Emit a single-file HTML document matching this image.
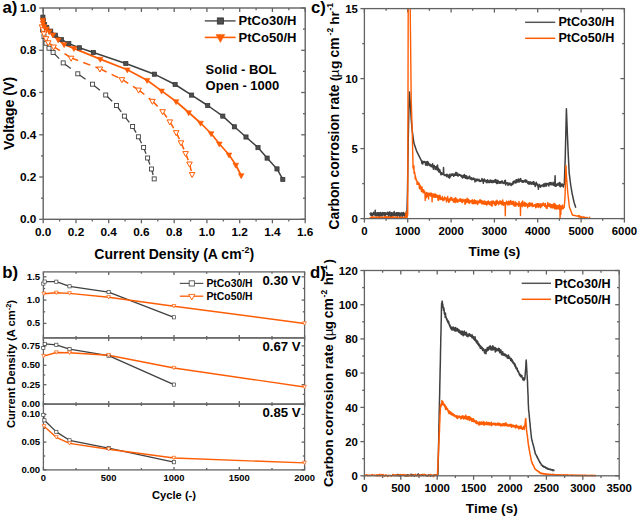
<!DOCTYPE html>
<html><head><meta charset="utf-8"><style>
html,body{margin:0;padding:0;background:#fff;}
svg{display:block;}
text{font-family:"Liberation Sans",sans-serif;font-weight:bold;fill:#000;}
</style></head><body>
<svg width="637" height="517" viewBox="0 0 637 517">
<rect width="637" height="517" fill="#fff"/>
<g>
<line x1="43.2" y1="219.3" x2="43.2" y2="223.3" stroke="#636363" stroke-width="1.3"/>
<line x1="43.2" y1="8" x2="43.2" y2="12" stroke="#636363" stroke-width="1.3"/>
<line x1="59.6" y1="219.3" x2="59.6" y2="221.5" stroke="#636363" stroke-width="1.3"/>
<line x1="59.6" y1="8" x2="59.6" y2="10.2" stroke="#636363" stroke-width="1.3"/>
<line x1="76" y1="219.3" x2="76" y2="223.3" stroke="#636363" stroke-width="1.3"/>
<line x1="76" y1="8" x2="76" y2="12" stroke="#636363" stroke-width="1.3"/>
<line x1="92.3" y1="219.3" x2="92.3" y2="221.5" stroke="#636363" stroke-width="1.3"/>
<line x1="92.3" y1="8" x2="92.3" y2="10.2" stroke="#636363" stroke-width="1.3"/>
<line x1="108.7" y1="219.3" x2="108.7" y2="223.3" stroke="#636363" stroke-width="1.3"/>
<line x1="108.7" y1="8" x2="108.7" y2="12" stroke="#636363" stroke-width="1.3"/>
<line x1="125.1" y1="219.3" x2="125.1" y2="221.5" stroke="#636363" stroke-width="1.3"/>
<line x1="125.1" y1="8" x2="125.1" y2="10.2" stroke="#636363" stroke-width="1.3"/>
<line x1="141.4" y1="219.3" x2="141.4" y2="223.3" stroke="#636363" stroke-width="1.3"/>
<line x1="141.4" y1="8" x2="141.4" y2="12" stroke="#636363" stroke-width="1.3"/>
<line x1="157.8" y1="219.3" x2="157.8" y2="221.5" stroke="#636363" stroke-width="1.3"/>
<line x1="157.8" y1="8" x2="157.8" y2="10.2" stroke="#636363" stroke-width="1.3"/>
<line x1="174.2" y1="219.3" x2="174.2" y2="223.3" stroke="#636363" stroke-width="1.3"/>
<line x1="174.2" y1="8" x2="174.2" y2="12" stroke="#636363" stroke-width="1.3"/>
<line x1="190.6" y1="219.3" x2="190.6" y2="221.5" stroke="#636363" stroke-width="1.3"/>
<line x1="190.6" y1="8" x2="190.6" y2="10.2" stroke="#636363" stroke-width="1.3"/>
<line x1="206.9" y1="219.3" x2="206.9" y2="223.3" stroke="#636363" stroke-width="1.3"/>
<line x1="206.9" y1="8" x2="206.9" y2="12" stroke="#636363" stroke-width="1.3"/>
<line x1="223.3" y1="219.3" x2="223.3" y2="221.5" stroke="#636363" stroke-width="1.3"/>
<line x1="223.3" y1="8" x2="223.3" y2="10.2" stroke="#636363" stroke-width="1.3"/>
<line x1="239.7" y1="219.3" x2="239.7" y2="223.3" stroke="#636363" stroke-width="1.3"/>
<line x1="239.7" y1="8" x2="239.7" y2="12" stroke="#636363" stroke-width="1.3"/>
<line x1="256.1" y1="219.3" x2="256.1" y2="221.5" stroke="#636363" stroke-width="1.3"/>
<line x1="256.1" y1="8" x2="256.1" y2="10.2" stroke="#636363" stroke-width="1.3"/>
<line x1="272.4" y1="219.3" x2="272.4" y2="223.3" stroke="#636363" stroke-width="1.3"/>
<line x1="272.4" y1="8" x2="272.4" y2="12" stroke="#636363" stroke-width="1.3"/>
<line x1="288.8" y1="219.3" x2="288.8" y2="221.5" stroke="#636363" stroke-width="1.3"/>
<line x1="288.8" y1="8" x2="288.8" y2="10.2" stroke="#636363" stroke-width="1.3"/>
<line x1="305.2" y1="219.3" x2="305.2" y2="223.3" stroke="#636363" stroke-width="1.3"/>
<line x1="305.2" y1="8" x2="305.2" y2="12" stroke="#636363" stroke-width="1.3"/>
<line x1="43.2" y1="219.3" x2="39.2" y2="219.3" stroke="#636363" stroke-width="1.3"/>
<line x1="305.2" y1="219.3" x2="301.2" y2="219.3" stroke="#636363" stroke-width="1.3"/>
<line x1="43.2" y1="198.2" x2="41" y2="198.2" stroke="#636363" stroke-width="1.3"/>
<line x1="305.2" y1="198.2" x2="303" y2="198.2" stroke="#636363" stroke-width="1.3"/>
<line x1="43.2" y1="177" x2="39.2" y2="177" stroke="#636363" stroke-width="1.3"/>
<line x1="305.2" y1="177" x2="301.2" y2="177" stroke="#636363" stroke-width="1.3"/>
<line x1="43.2" y1="155.9" x2="41" y2="155.9" stroke="#636363" stroke-width="1.3"/>
<line x1="305.2" y1="155.9" x2="303" y2="155.9" stroke="#636363" stroke-width="1.3"/>
<line x1="43.2" y1="134.8" x2="39.2" y2="134.8" stroke="#636363" stroke-width="1.3"/>
<line x1="305.2" y1="134.8" x2="301.2" y2="134.8" stroke="#636363" stroke-width="1.3"/>
<line x1="43.2" y1="113.7" x2="41" y2="113.7" stroke="#636363" stroke-width="1.3"/>
<line x1="305.2" y1="113.7" x2="303" y2="113.7" stroke="#636363" stroke-width="1.3"/>
<line x1="43.2" y1="92.5" x2="39.2" y2="92.5" stroke="#636363" stroke-width="1.3"/>
<line x1="305.2" y1="92.5" x2="301.2" y2="92.5" stroke="#636363" stroke-width="1.3"/>
<line x1="43.2" y1="71.4" x2="41" y2="71.4" stroke="#636363" stroke-width="1.3"/>
<line x1="305.2" y1="71.4" x2="303" y2="71.4" stroke="#636363" stroke-width="1.3"/>
<line x1="43.2" y1="50.3" x2="39.2" y2="50.3" stroke="#636363" stroke-width="1.3"/>
<line x1="305.2" y1="50.3" x2="301.2" y2="50.3" stroke="#636363" stroke-width="1.3"/>
<line x1="43.2" y1="29.1" x2="41" y2="29.1" stroke="#636363" stroke-width="1.3"/>
<line x1="305.2" y1="29.1" x2="303" y2="29.1" stroke="#636363" stroke-width="1.3"/>
<line x1="43.2" y1="8" x2="39.2" y2="8" stroke="#636363" stroke-width="1.3"/>
<line x1="305.2" y1="8" x2="301.2" y2="8" stroke="#636363" stroke-width="1.3"/>
<rect x="43.2" y="8.0" width="262" height="211.3" fill="none" stroke="#636363" stroke-width="1.4"/>
<text x="43.2" y="235.7" font-size="11.8" text-anchor="middle" >0.0</text>
<text x="76" y="235.7" font-size="11.8" text-anchor="middle" >0.2</text>
<text x="108.7" y="235.7" font-size="11.8" text-anchor="middle" >0.4</text>
<text x="141.4" y="235.7" font-size="11.8" text-anchor="middle" >0.6</text>
<text x="174.2" y="235.7" font-size="11.8" text-anchor="middle" >0.8</text>
<text x="206.9" y="235.7" font-size="11.8" text-anchor="middle" >1.0</text>
<text x="239.7" y="235.7" font-size="11.8" text-anchor="middle" >1.2</text>
<text x="272.4" y="235.7" font-size="11.8" text-anchor="middle" >1.4</text>
<text x="305.2" y="235.7" font-size="11.8" text-anchor="middle" >1.6</text>
<text x="36.3" y="223.3" font-size="11.8" text-anchor="end" >0.0</text>
<text x="36.3" y="181" font-size="11.8" text-anchor="end" >0.2</text>
<text x="36.3" y="138.8" font-size="11.8" text-anchor="end" >0.4</text>
<text x="36.3" y="96.5" font-size="11.8" text-anchor="end" >0.6</text>
<text x="36.3" y="54.3" font-size="11.8" text-anchor="end" >0.8</text>
<text x="36.3" y="12" font-size="11.8" text-anchor="end" >1.0</text>
<text x="174.2" y="258.7" font-size="14" text-anchor="middle" >Current Density (A cm<tspan dy="-5.5" font-size="8.8">-2</tspan><tspan dy="5.5">)</tspan></text>
<text transform="translate(13.6,113.4) rotate(-90)" font-size="14.2" text-anchor="middle">Voltage (V)</text>
<text x="2.5" y="13.4" font-size="16.8" text-anchor="start" >a)</text>
</g>
<line x1="42.6" y1="30" x2="44" y2="36.5" stroke="#404040" stroke-width="1.3" stroke-dasharray="4.0,60"/>
<line x1="44" y1="36.5" x2="46" y2="43.2" stroke="#404040" stroke-width="1.3" stroke-dasharray="4.2,60"/>
<line x1="46" y1="43.2" x2="49" y2="48.2" stroke="#404040" stroke-width="1.3" stroke-dasharray="3.5,60"/>
<line x1="49" y1="48.2" x2="53.1" y2="52.4" stroke="#404040" stroke-width="1.3" stroke-dasharray="3.5,60"/>
<line x1="53.1" y1="52.4" x2="63.2" y2="62.9" stroke="#404040" stroke-width="1.3" stroke-dasharray="8.7,60"/>
<line x1="63.2" y1="62.9" x2="77.8" y2="73.8" stroke="#404040" stroke-width="1.3" stroke-dasharray="9.5,60"/>
<line x1="77.8" y1="73.8" x2="92.5" y2="84.2" stroke="#404040" stroke-width="1.3" stroke-dasharray="9.5,60"/>
<line x1="92.5" y1="84.2" x2="105.7" y2="95" stroke="#404040" stroke-width="1.3" stroke-dasharray="9.5,60"/>
<line x1="105.7" y1="95" x2="116.5" y2="105.5" stroke="#404040" stroke-width="1.3" stroke-dasharray="9.0,60"/>
<line x1="116.5" y1="105.5" x2="124.4" y2="116.1" stroke="#404040" stroke-width="1.3" stroke-dasharray="7.9,60"/>
<line x1="124.4" y1="116.1" x2="132.6" y2="126.5" stroke="#404040" stroke-width="1.3" stroke-dasharray="7.9,60"/>
<line x1="132.6" y1="126.5" x2="138.4" y2="136.8" stroke="#404040" stroke-width="1.3" stroke-dasharray="7.1,60"/>
<line x1="138.4" y1="136.8" x2="143.6" y2="147.4" stroke="#404040" stroke-width="1.3" stroke-dasharray="7.1,60"/>
<line x1="143.6" y1="147.4" x2="147.6" y2="158" stroke="#404040" stroke-width="1.3" stroke-dasharray="6.8,60"/>
<line x1="147.6" y1="158" x2="151.5" y2="169" stroke="#404040" stroke-width="1.3" stroke-dasharray="7.0,60"/>
<line x1="151.5" y1="169" x2="154.2" y2="178.9" stroke="#404040" stroke-width="1.3" stroke-dasharray="6.2,60"/>
<line x1="42" y1="26.6" x2="43" y2="29.5" stroke="#ff5d04" stroke-width="1.5" stroke-dasharray="7.5,5.5"/>
<line x1="43" y1="29.5" x2="44" y2="33.6" stroke="#ff5d04" stroke-width="1.5" stroke-dasharray="7.5,5.5"/>
<line x1="44" y1="33.6" x2="46" y2="38.4" stroke="#ff5d04" stroke-width="1.5" stroke-dasharray="7.5,5.5"/>
<line x1="46" y1="38.4" x2="48.2" y2="42.5" stroke="#ff5d04" stroke-width="1.5" stroke-dasharray="7.5,5.5"/>
<line x1="48.2" y1="42.5" x2="53.6" y2="46.7" stroke="#ff5d04" stroke-width="1.5" stroke-dasharray="7.5,5.5"/>
<line x1="53.6" y1="46.7" x2="71.1" y2="57.9" stroke="#ff5d04" stroke-width="1.5" stroke-dasharray="7.5,5.5"/>
<line x1="71.1" y1="57.9" x2="99.9" y2="68.7" stroke="#ff5d04" stroke-width="1.5" stroke-dasharray="7.5,5.5"/>
<line x1="99.9" y1="68.7" x2="121.9" y2="79.4" stroke="#ff5d04" stroke-width="1.5" stroke-dasharray="7.5,5.5"/>
<line x1="121.9" y1="79.4" x2="138.6" y2="89.8" stroke="#ff5d04" stroke-width="1.5" stroke-dasharray="7.5,5.5"/>
<line x1="138.6" y1="89.8" x2="152.4" y2="101" stroke="#ff5d04" stroke-width="1.5" stroke-dasharray="7.5,5.5"/>
<line x1="152.4" y1="101" x2="162.6" y2="111.4" stroke="#ff5d04" stroke-width="1.5" stroke-dasharray="7.5,5.5"/>
<line x1="162.6" y1="111.4" x2="169.8" y2="121.6" stroke="#ff5d04" stroke-width="1.5" stroke-dasharray="7.5,5.5"/>
<line x1="169.8" y1="121.6" x2="176.2" y2="132.4" stroke="#ff5d04" stroke-width="1.5" stroke-dasharray="7.5,5.5"/>
<line x1="176.2" y1="132.4" x2="181" y2="142.5" stroke="#ff5d04" stroke-width="1.5" stroke-dasharray="7.5,5.5"/>
<line x1="181" y1="142.5" x2="185.6" y2="153.3" stroke="#ff5d04" stroke-width="1.5" stroke-dasharray="7.5,5.5"/>
<line x1="185.6" y1="153.3" x2="189.5" y2="163.7" stroke="#ff5d04" stroke-width="1.5" stroke-dasharray="7.5,5.5"/>
<line x1="189.5" y1="163.7" x2="192.1" y2="174.2" stroke="#ff5d04" stroke-width="1.5" stroke-dasharray="7.5,5.5"/>
<polyline points="42.9,17.2 43.3,20.5 44.6,24.5 46.7,27.5 50.7,31.1 55.5,35.2 61.4,39.5 68.8,43.6 79.4,47.8 93.4,52.5 125.8,63.5 154.4,74.2 175.1,84.5 191.6,95.1 207.7,105.5 222.8,116.1 234.4,126.8 246,137 258,147.6 267.1,158.1 277,168.9 282.8,179.4" fill="none" stroke="#404040" stroke-width="1.5" stroke-linejoin="round" />
<polyline points="42.8,20 43,23 44.2,26.3 46.5,28.8 49.2,31.5 52.8,34.8 58.2,39.7 64.1,44.5 73.9,48.4 100.2,59.1 127.3,69.7 147.1,80.2 161.6,90.9 176.1,101.5 188.7,112.5 200.6,123 211.1,133.5 219.3,143.8 229,154.8 235.8,165 241.2,175.5" fill="none" stroke="#ff5d04" stroke-width="1.7" stroke-linejoin="round" />
<rect x="40.6" y="28" width="4" height="4" fill="#fff" stroke="#404040" stroke-width="0.9"/>
<rect x="42" y="34.5" width="4" height="4" fill="#fff" stroke="#404040" stroke-width="0.9"/>
<rect x="44" y="41.2" width="4" height="4" fill="#fff" stroke="#404040" stroke-width="0.9"/>
<rect x="47" y="46.2" width="4" height="4" fill="#fff" stroke="#404040" stroke-width="0.9"/>
<rect x="51.1" y="50.4" width="4" height="4" fill="#fff" stroke="#404040" stroke-width="0.9"/>
<rect x="61.2" y="60.9" width="4" height="4" fill="#fff" stroke="#404040" stroke-width="0.9"/>
<rect x="75.8" y="71.8" width="4" height="4" fill="#fff" stroke="#404040" stroke-width="0.9"/>
<rect x="90.5" y="82.2" width="4" height="4" fill="#fff" stroke="#404040" stroke-width="0.9"/>
<rect x="103.7" y="93" width="4" height="4" fill="#fff" stroke="#404040" stroke-width="0.9"/>
<rect x="114.5" y="103.5" width="4" height="4" fill="#fff" stroke="#404040" stroke-width="0.9"/>
<rect x="122.4" y="114.1" width="4" height="4" fill="#fff" stroke="#404040" stroke-width="0.9"/>
<rect x="130.6" y="124.5" width="4" height="4" fill="#fff" stroke="#404040" stroke-width="0.9"/>
<rect x="136.4" y="134.8" width="4" height="4" fill="#fff" stroke="#404040" stroke-width="0.9"/>
<rect x="141.6" y="145.4" width="4" height="4" fill="#fff" stroke="#404040" stroke-width="0.9"/>
<rect x="145.6" y="156" width="4" height="4" fill="#fff" stroke="#404040" stroke-width="0.9"/>
<rect x="149.5" y="167" width="4" height="4" fill="#fff" stroke="#404040" stroke-width="0.9"/>
<rect x="152.2" y="176.9" width="4" height="4" fill="#fff" stroke="#404040" stroke-width="0.9"/>
<polygon points="39.2,24.9 44.8,24.9 42,29.9" fill="#fff" stroke="#ff5d04" stroke-width="1.0" stroke-linejoin="miter"/>
<polygon points="40.2,27.8 45.8,27.8 43,32.8" fill="#fff" stroke="#ff5d04" stroke-width="1.0" stroke-linejoin="miter"/>
<polygon points="41.2,31.9 46.8,31.9 44,36.9" fill="#fff" stroke="#ff5d04" stroke-width="1.0" stroke-linejoin="miter"/>
<polygon points="43.2,36.7 48.8,36.7 46,41.7" fill="#fff" stroke="#ff5d04" stroke-width="1.0" stroke-linejoin="miter"/>
<polygon points="45.4,40.8 51,40.8 48.2,45.8" fill="#fff" stroke="#ff5d04" stroke-width="1.0" stroke-linejoin="miter"/>
<polygon points="50.8,45 56.4,45 53.6,50" fill="#fff" stroke="#ff5d04" stroke-width="1.0" stroke-linejoin="miter"/>
<polygon points="68.3,56.2 73.9,56.2 71.1,61.2" fill="#fff" stroke="#ff5d04" stroke-width="1.0" stroke-linejoin="miter"/>
<polygon points="97.1,67 102.7,67 99.9,72" fill="#fff" stroke="#ff5d04" stroke-width="1.0" stroke-linejoin="miter"/>
<polygon points="119.1,77.7 124.7,77.7 121.9,82.7" fill="#fff" stroke="#ff5d04" stroke-width="1.0" stroke-linejoin="miter"/>
<polygon points="135.8,88.1 141.4,88.1 138.6,93.1" fill="#fff" stroke="#ff5d04" stroke-width="1.0" stroke-linejoin="miter"/>
<polygon points="149.6,99.3 155.2,99.3 152.4,104.3" fill="#fff" stroke="#ff5d04" stroke-width="1.0" stroke-linejoin="miter"/>
<polygon points="159.8,109.7 165.4,109.7 162.6,114.7" fill="#fff" stroke="#ff5d04" stroke-width="1.0" stroke-linejoin="miter"/>
<polygon points="167,119.9 172.6,119.9 169.8,124.9" fill="#fff" stroke="#ff5d04" stroke-width="1.0" stroke-linejoin="miter"/>
<polygon points="173.4,130.7 179,130.7 176.2,135.7" fill="#fff" stroke="#ff5d04" stroke-width="1.0" stroke-linejoin="miter"/>
<polygon points="178.2,140.8 183.8,140.8 181,145.8" fill="#fff" stroke="#ff5d04" stroke-width="1.0" stroke-linejoin="miter"/>
<polygon points="182.8,151.6 188.4,151.6 185.6,156.6" fill="#fff" stroke="#ff5d04" stroke-width="1.0" stroke-linejoin="miter"/>
<polygon points="186.7,162 192.3,162 189.5,167" fill="#fff" stroke="#ff5d04" stroke-width="1.0" stroke-linejoin="miter"/>
<polygon points="189.3,172.5 194.9,172.5 192.1,177.5" fill="#fff" stroke="#ff5d04" stroke-width="1.0" stroke-linejoin="miter"/>
<rect x="40.8" y="15.1" width="4.2" height="4.2" fill="#4e4e4e" stroke="#333" stroke-width="0.7"/>
<rect x="41.2" y="18.4" width="4.2" height="4.2" fill="#4e4e4e" stroke="#333" stroke-width="0.7"/>
<rect x="42.5" y="22.4" width="4.2" height="4.2" fill="#4e4e4e" stroke="#333" stroke-width="0.7"/>
<rect x="44.6" y="25.4" width="4.2" height="4.2" fill="#4e4e4e" stroke="#333" stroke-width="0.7"/>
<rect x="48.6" y="29" width="4.2" height="4.2" fill="#4e4e4e" stroke="#333" stroke-width="0.7"/>
<rect x="53.4" y="33.1" width="4.2" height="4.2" fill="#4e4e4e" stroke="#333" stroke-width="0.7"/>
<rect x="59.3" y="37.4" width="4.2" height="4.2" fill="#4e4e4e" stroke="#333" stroke-width="0.7"/>
<rect x="66.7" y="41.5" width="4.2" height="4.2" fill="#4e4e4e" stroke="#333" stroke-width="0.7"/>
<rect x="77.3" y="45.7" width="4.2" height="4.2" fill="#4e4e4e" stroke="#333" stroke-width="0.7"/>
<rect x="91.3" y="50.4" width="4.2" height="4.2" fill="#4e4e4e" stroke="#333" stroke-width="0.7"/>
<rect x="123.7" y="61.4" width="4.2" height="4.2" fill="#4e4e4e" stroke="#333" stroke-width="0.7"/>
<rect x="152.3" y="72.1" width="4.2" height="4.2" fill="#4e4e4e" stroke="#333" stroke-width="0.7"/>
<rect x="173" y="82.4" width="4.2" height="4.2" fill="#4e4e4e" stroke="#333" stroke-width="0.7"/>
<rect x="189.5" y="93" width="4.2" height="4.2" fill="#4e4e4e" stroke="#333" stroke-width="0.7"/>
<rect x="205.6" y="103.4" width="4.2" height="4.2" fill="#4e4e4e" stroke="#333" stroke-width="0.7"/>
<rect x="220.7" y="114" width="4.2" height="4.2" fill="#4e4e4e" stroke="#333" stroke-width="0.7"/>
<rect x="232.3" y="124.7" width="4.2" height="4.2" fill="#4e4e4e" stroke="#333" stroke-width="0.7"/>
<rect x="243.9" y="134.9" width="4.2" height="4.2" fill="#4e4e4e" stroke="#333" stroke-width="0.7"/>
<rect x="255.9" y="145.5" width="4.2" height="4.2" fill="#4e4e4e" stroke="#333" stroke-width="0.7"/>
<rect x="265" y="156" width="4.2" height="4.2" fill="#4e4e4e" stroke="#333" stroke-width="0.7"/>
<rect x="274.9" y="166.8" width="4.2" height="4.2" fill="#4e4e4e" stroke="#333" stroke-width="0.7"/>
<rect x="280.7" y="177.3" width="4.2" height="4.2" fill="#4e4e4e" stroke="#333" stroke-width="0.7"/>
<polygon points="40,18.2 45.6,18.2 42.8,23.2" fill="#ff5d04" stroke="#ff5d04" stroke-width="0.6" stroke-linejoin="miter"/>
<polygon points="40.2,21.2 45.8,21.2 43,26.2" fill="#ff5d04" stroke="#ff5d04" stroke-width="0.6" stroke-linejoin="miter"/>
<polygon points="41.4,24.5 47,24.5 44.2,29.5" fill="#ff5d04" stroke="#ff5d04" stroke-width="0.6" stroke-linejoin="miter"/>
<polygon points="43.7,27 49.3,27 46.5,32" fill="#ff5d04" stroke="#ff5d04" stroke-width="0.6" stroke-linejoin="miter"/>
<polygon points="46.4,29.7 52,29.7 49.2,34.7" fill="#ff5d04" stroke="#ff5d04" stroke-width="0.6" stroke-linejoin="miter"/>
<polygon points="50,33 55.6,33 52.8,38" fill="#ff5d04" stroke="#ff5d04" stroke-width="0.6" stroke-linejoin="miter"/>
<polygon points="55.4,37.9 61,37.9 58.2,42.9" fill="#ff5d04" stroke="#ff5d04" stroke-width="0.6" stroke-linejoin="miter"/>
<polygon points="61.3,42.7 66.9,42.7 64.1,47.7" fill="#ff5d04" stroke="#ff5d04" stroke-width="0.6" stroke-linejoin="miter"/>
<polygon points="71.1,46.6 76.7,46.6 73.9,51.6" fill="#ff5d04" stroke="#ff5d04" stroke-width="0.6" stroke-linejoin="miter"/>
<polygon points="97.4,57.3 103,57.3 100.2,62.3" fill="#ff5d04" stroke="#ff5d04" stroke-width="0.6" stroke-linejoin="miter"/>
<polygon points="124.5,67.9 130.1,67.9 127.3,72.9" fill="#ff5d04" stroke="#ff5d04" stroke-width="0.6" stroke-linejoin="miter"/>
<polygon points="144.3,78.4 149.9,78.4 147.1,83.4" fill="#ff5d04" stroke="#ff5d04" stroke-width="0.6" stroke-linejoin="miter"/>
<polygon points="158.8,89.1 164.4,89.1 161.6,94.1" fill="#ff5d04" stroke="#ff5d04" stroke-width="0.6" stroke-linejoin="miter"/>
<polygon points="173.3,99.7 178.9,99.7 176.1,104.7" fill="#ff5d04" stroke="#ff5d04" stroke-width="0.6" stroke-linejoin="miter"/>
<polygon points="185.9,110.7 191.5,110.7 188.7,115.7" fill="#ff5d04" stroke="#ff5d04" stroke-width="0.6" stroke-linejoin="miter"/>
<polygon points="197.8,121.2 203.4,121.2 200.6,126.2" fill="#ff5d04" stroke="#ff5d04" stroke-width="0.6" stroke-linejoin="miter"/>
<polygon points="208.3,131.7 213.9,131.7 211.1,136.7" fill="#ff5d04" stroke="#ff5d04" stroke-width="0.6" stroke-linejoin="miter"/>
<polygon points="216.5,142 222.1,142 219.3,147" fill="#ff5d04" stroke="#ff5d04" stroke-width="0.6" stroke-linejoin="miter"/>
<polygon points="226.2,153 231.8,153 229,158" fill="#ff5d04" stroke="#ff5d04" stroke-width="0.6" stroke-linejoin="miter"/>
<polygon points="233,163.2 238.6,163.2 235.8,168.2" fill="#ff5d04" stroke="#ff5d04" stroke-width="0.6" stroke-linejoin="miter"/>
<polygon points="238.4,173.7 244,173.7 241.2,178.7" fill="#ff5d04" stroke="#ff5d04" stroke-width="0.6" stroke-linejoin="miter"/>
<line x1="204.8" y1="20.9" x2="235.6" y2="20.9" stroke="#555" stroke-width="1.5"/>
<rect x="217.3" y="17.9" width="6.2" height="6.2" fill="#4e4e4e" stroke="#333" stroke-width="0.8"/>
<line x1="204.8" y1="37.4" x2="235.6" y2="37.4" stroke="#ff5d04" stroke-width="1.6"/>
<polygon points="216,34.4 224.8,34.4 220.4,42.4" fill="#ff5d04" stroke="#ff5d04" stroke-width="0.5" stroke-linejoin="miter"/>
<text x="238.6" y="25.4" font-size="13" text-anchor="start" >PtCo30/H</text>
<text x="238.6" y="41.9" font-size="13" text-anchor="start" >PtCo50/H</text>
<text x="205.6" y="74.2" font-size="13" text-anchor="start" >Solid - BOL</text>
<text x="205.6" y="90.3" font-size="13" text-anchor="start" >Open - 1000</text>
<line x1="43.4" y1="337.9" x2="43.4" y2="334.9" stroke="#636363" stroke-width="1.3"/>
<line x1="43.4" y1="271.9" x2="43.4" y2="274.9" stroke="#636363" stroke-width="1.3"/>
<line x1="76.1" y1="337.9" x2="76.1" y2="336.1" stroke="#636363" stroke-width="1.3"/>
<line x1="76.1" y1="271.9" x2="76.1" y2="273.7" stroke="#636363" stroke-width="1.3"/>
<line x1="108.7" y1="337.9" x2="108.7" y2="334.9" stroke="#636363" stroke-width="1.3"/>
<line x1="108.7" y1="271.9" x2="108.7" y2="274.9" stroke="#636363" stroke-width="1.3"/>
<line x1="141.4" y1="337.9" x2="141.4" y2="336.1" stroke="#636363" stroke-width="1.3"/>
<line x1="141.4" y1="271.9" x2="141.4" y2="273.7" stroke="#636363" stroke-width="1.3"/>
<line x1="174" y1="337.9" x2="174" y2="334.9" stroke="#636363" stroke-width="1.3"/>
<line x1="174" y1="271.9" x2="174" y2="274.9" stroke="#636363" stroke-width="1.3"/>
<line x1="206.7" y1="337.9" x2="206.7" y2="336.1" stroke="#636363" stroke-width="1.3"/>
<line x1="206.7" y1="271.9" x2="206.7" y2="273.7" stroke="#636363" stroke-width="1.3"/>
<line x1="239.3" y1="337.9" x2="239.3" y2="334.9" stroke="#636363" stroke-width="1.3"/>
<line x1="239.3" y1="271.9" x2="239.3" y2="274.9" stroke="#636363" stroke-width="1.3"/>
<line x1="272" y1="337.9" x2="272" y2="336.1" stroke="#636363" stroke-width="1.3"/>
<line x1="272" y1="271.9" x2="272" y2="273.7" stroke="#636363" stroke-width="1.3"/>
<line x1="304.6" y1="337.9" x2="304.6" y2="334.9" stroke="#636363" stroke-width="1.3"/>
<line x1="304.6" y1="271.9" x2="304.6" y2="274.9" stroke="#636363" stroke-width="1.3"/>
<line x1="43.4" y1="323.4" x2="46.4" y2="323.4" stroke="#636363" stroke-width="1.3"/>
<line x1="304.6" y1="323.4" x2="301.6" y2="323.4" stroke="#636363" stroke-width="1.3"/>
<line x1="43.4" y1="311.8" x2="45.2" y2="311.8" stroke="#636363" stroke-width="1.3"/>
<line x1="304.6" y1="311.8" x2="302.8" y2="311.8" stroke="#636363" stroke-width="1.3"/>
<line x1="43.4" y1="300.1" x2="46.4" y2="300.1" stroke="#636363" stroke-width="1.3"/>
<line x1="304.6" y1="300.1" x2="301.6" y2="300.1" stroke="#636363" stroke-width="1.3"/>
<line x1="43.4" y1="288.5" x2="45.2" y2="288.5" stroke="#636363" stroke-width="1.3"/>
<line x1="304.6" y1="288.5" x2="302.8" y2="288.5" stroke="#636363" stroke-width="1.3"/>
<line x1="43.4" y1="276.8" x2="46.4" y2="276.8" stroke="#636363" stroke-width="1.3"/>
<line x1="304.6" y1="276.8" x2="301.6" y2="276.8" stroke="#636363" stroke-width="1.3"/>
<text x="40.2" y="326.4" font-size="9.6" text-anchor="end" >0.5</text>
<text x="40.2" y="303.1" font-size="9.6" text-anchor="end" >1.0</text>
<text x="40.2" y="279.8" font-size="9.6" text-anchor="end" >1.5</text>
<rect x="43.4" y="271.9" width="261.2" height="66" fill="none" stroke="#636363" stroke-width="1.3"/>
<line x1="43.4" y1="404.1" x2="43.4" y2="401.1" stroke="#636363" stroke-width="1.3"/>
<line x1="43.4" y1="337.9" x2="43.4" y2="340.9" stroke="#636363" stroke-width="1.3"/>
<line x1="76.1" y1="404.1" x2="76.1" y2="402.3" stroke="#636363" stroke-width="1.3"/>
<line x1="76.1" y1="337.9" x2="76.1" y2="339.7" stroke="#636363" stroke-width="1.3"/>
<line x1="108.7" y1="404.1" x2="108.7" y2="401.1" stroke="#636363" stroke-width="1.3"/>
<line x1="108.7" y1="337.9" x2="108.7" y2="340.9" stroke="#636363" stroke-width="1.3"/>
<line x1="141.4" y1="404.1" x2="141.4" y2="402.3" stroke="#636363" stroke-width="1.3"/>
<line x1="141.4" y1="337.9" x2="141.4" y2="339.7" stroke="#636363" stroke-width="1.3"/>
<line x1="174" y1="404.1" x2="174" y2="401.1" stroke="#636363" stroke-width="1.3"/>
<line x1="174" y1="337.9" x2="174" y2="340.9" stroke="#636363" stroke-width="1.3"/>
<line x1="206.7" y1="404.1" x2="206.7" y2="402.3" stroke="#636363" stroke-width="1.3"/>
<line x1="206.7" y1="337.9" x2="206.7" y2="339.7" stroke="#636363" stroke-width="1.3"/>
<line x1="239.3" y1="404.1" x2="239.3" y2="401.1" stroke="#636363" stroke-width="1.3"/>
<line x1="239.3" y1="337.9" x2="239.3" y2="340.9" stroke="#636363" stroke-width="1.3"/>
<line x1="272" y1="404.1" x2="272" y2="402.3" stroke="#636363" stroke-width="1.3"/>
<line x1="272" y1="337.9" x2="272" y2="339.7" stroke="#636363" stroke-width="1.3"/>
<line x1="304.6" y1="404.1" x2="304.6" y2="401.1" stroke="#636363" stroke-width="1.3"/>
<line x1="304.6" y1="337.9" x2="304.6" y2="340.9" stroke="#636363" stroke-width="1.3"/>
<line x1="43.4" y1="404.1" x2="46.4" y2="404.1" stroke="#636363" stroke-width="1.3"/>
<line x1="304.6" y1="404.1" x2="301.6" y2="404.1" stroke="#636363" stroke-width="1.3"/>
<line x1="43.4" y1="394.4" x2="45.2" y2="394.4" stroke="#636363" stroke-width="1.3"/>
<line x1="304.6" y1="394.4" x2="302.8" y2="394.4" stroke="#636363" stroke-width="1.3"/>
<line x1="43.4" y1="384.7" x2="46.4" y2="384.7" stroke="#636363" stroke-width="1.3"/>
<line x1="304.6" y1="384.7" x2="301.6" y2="384.7" stroke="#636363" stroke-width="1.3"/>
<line x1="43.4" y1="375" x2="45.2" y2="375" stroke="#636363" stroke-width="1.3"/>
<line x1="304.6" y1="375" x2="302.8" y2="375" stroke="#636363" stroke-width="1.3"/>
<line x1="43.4" y1="365.3" x2="46.4" y2="365.3" stroke="#636363" stroke-width="1.3"/>
<line x1="304.6" y1="365.3" x2="301.6" y2="365.3" stroke="#636363" stroke-width="1.3"/>
<line x1="43.4" y1="355.6" x2="45.2" y2="355.6" stroke="#636363" stroke-width="1.3"/>
<line x1="304.6" y1="355.6" x2="302.8" y2="355.6" stroke="#636363" stroke-width="1.3"/>
<line x1="43.4" y1="345.9" x2="46.4" y2="345.9" stroke="#636363" stroke-width="1.3"/>
<line x1="304.6" y1="345.9" x2="301.6" y2="345.9" stroke="#636363" stroke-width="1.3"/>
<text x="40.2" y="407.1" font-size="9.6" text-anchor="end" >0.00</text>
<text x="40.2" y="387.7" font-size="9.6" text-anchor="end" >0.25</text>
<text x="40.2" y="368.3" font-size="9.6" text-anchor="end" >0.50</text>
<text x="40.2" y="348.9" font-size="9.6" text-anchor="end" >0.75</text>
<rect x="43.4" y="337.9" width="261.2" height="66.2" fill="none" stroke="#636363" stroke-width="1.3"/>
<line x1="43.4" y1="469.9" x2="43.4" y2="466.9" stroke="#636363" stroke-width="1.3"/>
<line x1="43.4" y1="404.1" x2="43.4" y2="407.1" stroke="#636363" stroke-width="1.3"/>
<line x1="76.1" y1="469.9" x2="76.1" y2="468.1" stroke="#636363" stroke-width="1.3"/>
<line x1="76.1" y1="404.1" x2="76.1" y2="405.9" stroke="#636363" stroke-width="1.3"/>
<line x1="108.7" y1="469.9" x2="108.7" y2="466.9" stroke="#636363" stroke-width="1.3"/>
<line x1="108.7" y1="404.1" x2="108.7" y2="407.1" stroke="#636363" stroke-width="1.3"/>
<line x1="141.4" y1="469.9" x2="141.4" y2="468.1" stroke="#636363" stroke-width="1.3"/>
<line x1="141.4" y1="404.1" x2="141.4" y2="405.9" stroke="#636363" stroke-width="1.3"/>
<line x1="174" y1="469.9" x2="174" y2="466.9" stroke="#636363" stroke-width="1.3"/>
<line x1="174" y1="404.1" x2="174" y2="407.1" stroke="#636363" stroke-width="1.3"/>
<line x1="206.7" y1="469.9" x2="206.7" y2="468.1" stroke="#636363" stroke-width="1.3"/>
<line x1="206.7" y1="404.1" x2="206.7" y2="405.9" stroke="#636363" stroke-width="1.3"/>
<line x1="239.3" y1="469.9" x2="239.3" y2="466.9" stroke="#636363" stroke-width="1.3"/>
<line x1="239.3" y1="404.1" x2="239.3" y2="407.1" stroke="#636363" stroke-width="1.3"/>
<line x1="272" y1="469.9" x2="272" y2="468.1" stroke="#636363" stroke-width="1.3"/>
<line x1="272" y1="404.1" x2="272" y2="405.9" stroke="#636363" stroke-width="1.3"/>
<line x1="304.6" y1="469.9" x2="304.6" y2="466.9" stroke="#636363" stroke-width="1.3"/>
<line x1="304.6" y1="404.1" x2="304.6" y2="407.1" stroke="#636363" stroke-width="1.3"/>
<line x1="43.4" y1="469.9" x2="46.4" y2="469.9" stroke="#636363" stroke-width="1.3"/>
<line x1="304.6" y1="469.9" x2="301.6" y2="469.9" stroke="#636363" stroke-width="1.3"/>
<line x1="43.4" y1="456" x2="45.2" y2="456" stroke="#636363" stroke-width="1.3"/>
<line x1="304.6" y1="456" x2="302.8" y2="456" stroke="#636363" stroke-width="1.3"/>
<line x1="43.4" y1="442.1" x2="46.4" y2="442.1" stroke="#636363" stroke-width="1.3"/>
<line x1="304.6" y1="442.1" x2="301.6" y2="442.1" stroke="#636363" stroke-width="1.3"/>
<line x1="43.4" y1="428.3" x2="45.2" y2="428.3" stroke="#636363" stroke-width="1.3"/>
<line x1="304.6" y1="428.3" x2="302.8" y2="428.3" stroke="#636363" stroke-width="1.3"/>
<line x1="43.4" y1="414.4" x2="46.4" y2="414.4" stroke="#636363" stroke-width="1.3"/>
<line x1="304.6" y1="414.4" x2="301.6" y2="414.4" stroke="#636363" stroke-width="1.3"/>
<text x="40.2" y="472.9" font-size="9.6" text-anchor="end" >0.00</text>
<text x="40.2" y="445.1" font-size="9.6" text-anchor="end" >0.05</text>
<text x="40.2" y="417.4" font-size="9.6" text-anchor="end" >0.10</text>
<rect x="43.4" y="404.1" width="261.2" height="65.8" fill="none" stroke="#636363" stroke-width="1.3"/>
<text x="43.4" y="481.2" font-size="9.4" text-anchor="middle" >0</text>
<text x="108.7" y="481.2" font-size="9.4" text-anchor="middle" >500</text>
<text x="174" y="481.2" font-size="9.4" text-anchor="middle" >1000</text>
<text x="239.3" y="481.2" font-size="9.4" text-anchor="middle" >1500</text>
<text x="304.6" y="481.2" font-size="9.4" text-anchor="middle" >2000</text>
<text x="174" y="499.3" font-size="11.2" text-anchor="middle" >Cycle (-)</text>
<text transform="translate(14.6,364) rotate(-90)" font-size="11.2" text-anchor="middle">Current Density (A cm<tspan dy="-4" font-size="7.5">-2</tspan><tspan dy="4">)</tspan></text>
<text x="2.3" y="277.6" font-size="16.8" text-anchor="start" >b)</text>
<text x="300.6" y="285" font-size="13.2" text-anchor="end" >0.30 V</text>
<text x="300.6" y="351" font-size="13.2" text-anchor="end" >0.67 V</text>
<text x="300.6" y="417.2" font-size="13.2" text-anchor="end" >0.85 V</text>
<polyline points="43.3,283.6 44.7,281.6 56.3,281.7 69.5,286.3 108.6,292.1 173.9,317.3" fill="none" stroke="#404040" stroke-width="1.3" stroke-linejoin="round" />
<polyline points="43.8,293.7 56.3,292.8 69.5,293.4 108.6,297.3 173.9,306.2 304.5,323.5" fill="none" stroke="#ff5d04" stroke-width="1.4" stroke-linejoin="round" />
<rect x="41.7" y="282" width="3.2" height="3.2" fill="#fff" stroke="#404040" stroke-width="0.7"/>
<rect x="43.1" y="280" width="3.2" height="3.2" fill="#fff" stroke="#404040" stroke-width="0.7"/>
<rect x="54.7" y="280.1" width="3.2" height="3.2" fill="#fff" stroke="#404040" stroke-width="0.7"/>
<rect x="67.9" y="284.7" width="3.2" height="3.2" fill="#fff" stroke="#404040" stroke-width="0.7"/>
<rect x="107" y="290.5" width="3.2" height="3.2" fill="#fff" stroke="#404040" stroke-width="0.7"/>
<rect x="172.3" y="315.7" width="3.2" height="3.2" fill="#fff" stroke="#404040" stroke-width="0.7"/>
<polygon points="41.9,292 45.7,292 43.8,295.4" fill="#fff" stroke="#ff5d04" stroke-width="0.7" stroke-linejoin="miter"/>
<polygon points="54.4,291.1 58.2,291.1 56.3,294.5" fill="#fff" stroke="#ff5d04" stroke-width="0.7" stroke-linejoin="miter"/>
<polygon points="67.6,291.7 71.4,291.7 69.5,295.1" fill="#fff" stroke="#ff5d04" stroke-width="0.7" stroke-linejoin="miter"/>
<polygon points="106.7,295.6 110.5,295.6 108.6,299" fill="#fff" stroke="#ff5d04" stroke-width="0.7" stroke-linejoin="miter"/>
<polygon points="172,304.5 175.8,304.5 173.9,307.9" fill="#fff" stroke="#ff5d04" stroke-width="0.7" stroke-linejoin="miter"/>
<polygon points="302.6,321.8 306.4,321.8 304.5,325.2" fill="#fff" stroke="#ff5d04" stroke-width="0.7" stroke-linejoin="miter"/>
<polyline points="43.3,348 44.8,343.9 56.3,344.8 69.5,349.2 108.6,355.7 173.9,384.6" fill="none" stroke="#404040" stroke-width="1.3" stroke-linejoin="round" />
<polyline points="43.6,356.1 56.3,352.5 69.5,352.8 108.6,355.3 173.9,368 304.5,387" fill="none" stroke="#ff5d04" stroke-width="1.4" stroke-linejoin="round" />
<rect x="41.7" y="346.4" width="3.2" height="3.2" fill="#fff" stroke="#404040" stroke-width="0.7"/>
<rect x="43.2" y="342.3" width="3.2" height="3.2" fill="#fff" stroke="#404040" stroke-width="0.7"/>
<rect x="54.7" y="343.2" width="3.2" height="3.2" fill="#fff" stroke="#404040" stroke-width="0.7"/>
<rect x="67.9" y="347.6" width="3.2" height="3.2" fill="#fff" stroke="#404040" stroke-width="0.7"/>
<rect x="107" y="354.1" width="3.2" height="3.2" fill="#fff" stroke="#404040" stroke-width="0.7"/>
<rect x="172.3" y="383" width="3.2" height="3.2" fill="#fff" stroke="#404040" stroke-width="0.7"/>
<polygon points="41.7,354.4 45.5,354.4 43.6,357.8" fill="#fff" stroke="#ff5d04" stroke-width="0.7" stroke-linejoin="miter"/>
<polygon points="54.4,350.8 58.2,350.8 56.3,354.2" fill="#fff" stroke="#ff5d04" stroke-width="0.7" stroke-linejoin="miter"/>
<polygon points="67.6,351.1 71.4,351.1 69.5,354.5" fill="#fff" stroke="#ff5d04" stroke-width="0.7" stroke-linejoin="miter"/>
<polygon points="106.7,353.6 110.5,353.6 108.6,357" fill="#fff" stroke="#ff5d04" stroke-width="0.7" stroke-linejoin="miter"/>
<polygon points="172,366.3 175.8,366.3 173.9,369.7" fill="#fff" stroke="#ff5d04" stroke-width="0.7" stroke-linejoin="miter"/>
<polygon points="302.6,385.3 306.4,385.3 304.5,388.7" fill="#fff" stroke="#ff5d04" stroke-width="0.7" stroke-linejoin="miter"/>
<polyline points="43.3,414.9 44.4,420.3 56.3,431.9 69.5,440.3 108.6,448.1 173.9,462.2" fill="none" stroke="#404040" stroke-width="1.3" stroke-linejoin="round" />
<polyline points="44,426.3 56.3,437.3 69.5,443.4 108.6,449.3 173.9,458 304.5,462.9" fill="none" stroke="#ff5d04" stroke-width="1.4" stroke-linejoin="round" />
<rect x="41.7" y="413.3" width="3.2" height="3.2" fill="#fff" stroke="#404040" stroke-width="0.7"/>
<rect x="42.8" y="418.7" width="3.2" height="3.2" fill="#fff" stroke="#404040" stroke-width="0.7"/>
<rect x="54.7" y="430.3" width="3.2" height="3.2" fill="#fff" stroke="#404040" stroke-width="0.7"/>
<rect x="67.9" y="438.7" width="3.2" height="3.2" fill="#fff" stroke="#404040" stroke-width="0.7"/>
<rect x="107" y="446.5" width="3.2" height="3.2" fill="#fff" stroke="#404040" stroke-width="0.7"/>
<rect x="172.3" y="460.6" width="3.2" height="3.2" fill="#fff" stroke="#404040" stroke-width="0.7"/>
<polygon points="42.1,424.6 45.9,424.6 44,428" fill="#fff" stroke="#ff5d04" stroke-width="0.7" stroke-linejoin="miter"/>
<polygon points="54.4,435.6 58.2,435.6 56.3,439" fill="#fff" stroke="#ff5d04" stroke-width="0.7" stroke-linejoin="miter"/>
<polygon points="67.6,441.7 71.4,441.7 69.5,445.1" fill="#fff" stroke="#ff5d04" stroke-width="0.7" stroke-linejoin="miter"/>
<polygon points="106.7,447.6 110.5,447.6 108.6,451" fill="#fff" stroke="#ff5d04" stroke-width="0.7" stroke-linejoin="miter"/>
<polygon points="172,456.3 175.8,456.3 173.9,459.7" fill="#fff" stroke="#ff5d04" stroke-width="0.7" stroke-linejoin="miter"/>
<polygon points="302.6,461.2 306.4,461.2 304.5,464.6" fill="#fff" stroke="#ff5d04" stroke-width="0.7" stroke-linejoin="miter"/>
<line x1="179.8" y1="283.4" x2="203.3" y2="283.4" stroke="#555" stroke-width="1.2"/>
<rect x="189.2" y="280.8" width="5.2" height="5.2" fill="#fff" stroke="#555" stroke-width="0.9"/>
<line x1="179.8" y1="296.2" x2="203.3" y2="296.2" stroke="#ff5d04" stroke-width="1.3"/>
<polygon points="188.7,294.4 194.9,294.4 191.8,300" fill="#fff" stroke="#ff5d04" stroke-width="0.9" stroke-linejoin="miter"/>
<text x="206.4" y="287.1" font-size="10.4" text-anchor="start" >PtCo30/H</text>
<text x="206.4" y="300" font-size="10.4" text-anchor="start" >PtCo50/H</text>
<line x1="364.4" y1="218.6" x2="364.4" y2="222.6" stroke="#636363" stroke-width="1.3"/>
<line x1="364.4" y1="8.6" x2="364.4" y2="12.6" stroke="#636363" stroke-width="1.3"/>
<line x1="386.1" y1="218.6" x2="386.1" y2="220.8" stroke="#636363" stroke-width="1.3"/>
<line x1="386.1" y1="8.6" x2="386.1" y2="10.8" stroke="#636363" stroke-width="1.3"/>
<line x1="407.7" y1="218.6" x2="407.7" y2="222.6" stroke="#636363" stroke-width="1.3"/>
<line x1="407.7" y1="8.6" x2="407.7" y2="12.6" stroke="#636363" stroke-width="1.3"/>
<line x1="429.4" y1="218.6" x2="429.4" y2="220.8" stroke="#636363" stroke-width="1.3"/>
<line x1="429.4" y1="8.6" x2="429.4" y2="10.8" stroke="#636363" stroke-width="1.3"/>
<line x1="451.1" y1="218.6" x2="451.1" y2="222.6" stroke="#636363" stroke-width="1.3"/>
<line x1="451.1" y1="8.6" x2="451.1" y2="12.6" stroke="#636363" stroke-width="1.3"/>
<line x1="472.7" y1="218.6" x2="472.7" y2="220.8" stroke="#636363" stroke-width="1.3"/>
<line x1="472.7" y1="8.6" x2="472.7" y2="10.8" stroke="#636363" stroke-width="1.3"/>
<line x1="494.4" y1="218.6" x2="494.4" y2="222.6" stroke="#636363" stroke-width="1.3"/>
<line x1="494.4" y1="8.6" x2="494.4" y2="12.6" stroke="#636363" stroke-width="1.3"/>
<line x1="516.1" y1="218.6" x2="516.1" y2="220.8" stroke="#636363" stroke-width="1.3"/>
<line x1="516.1" y1="8.6" x2="516.1" y2="10.8" stroke="#636363" stroke-width="1.3"/>
<line x1="537.7" y1="218.6" x2="537.7" y2="222.6" stroke="#636363" stroke-width="1.3"/>
<line x1="537.7" y1="8.6" x2="537.7" y2="12.6" stroke="#636363" stroke-width="1.3"/>
<line x1="559.4" y1="218.6" x2="559.4" y2="220.8" stroke="#636363" stroke-width="1.3"/>
<line x1="559.4" y1="8.6" x2="559.4" y2="10.8" stroke="#636363" stroke-width="1.3"/>
<line x1="581.1" y1="218.6" x2="581.1" y2="222.6" stroke="#636363" stroke-width="1.3"/>
<line x1="581.1" y1="8.6" x2="581.1" y2="12.6" stroke="#636363" stroke-width="1.3"/>
<line x1="602.7" y1="218.6" x2="602.7" y2="220.8" stroke="#636363" stroke-width="1.3"/>
<line x1="602.7" y1="8.6" x2="602.7" y2="10.8" stroke="#636363" stroke-width="1.3"/>
<line x1="624.4" y1="218.6" x2="624.4" y2="222.6" stroke="#636363" stroke-width="1.3"/>
<line x1="624.4" y1="8.6" x2="624.4" y2="12.6" stroke="#636363" stroke-width="1.3"/>
<line x1="364.4" y1="218.6" x2="360.4" y2="218.6" stroke="#636363" stroke-width="1.3"/>
<line x1="624.4" y1="218.6" x2="620.4" y2="218.6" stroke="#636363" stroke-width="1.3"/>
<line x1="364.4" y1="183.6" x2="362.2" y2="183.6" stroke="#636363" stroke-width="1.3"/>
<line x1="624.4" y1="183.6" x2="622.2" y2="183.6" stroke="#636363" stroke-width="1.3"/>
<line x1="364.4" y1="148.6" x2="360.4" y2="148.6" stroke="#636363" stroke-width="1.3"/>
<line x1="624.4" y1="148.6" x2="620.4" y2="148.6" stroke="#636363" stroke-width="1.3"/>
<line x1="364.4" y1="113.6" x2="362.2" y2="113.6" stroke="#636363" stroke-width="1.3"/>
<line x1="624.4" y1="113.6" x2="622.2" y2="113.6" stroke="#636363" stroke-width="1.3"/>
<line x1="364.4" y1="78.6" x2="360.4" y2="78.6" stroke="#636363" stroke-width="1.3"/>
<line x1="624.4" y1="78.6" x2="620.4" y2="78.6" stroke="#636363" stroke-width="1.3"/>
<line x1="364.4" y1="43.6" x2="362.2" y2="43.6" stroke="#636363" stroke-width="1.3"/>
<line x1="624.4" y1="43.6" x2="622.2" y2="43.6" stroke="#636363" stroke-width="1.3"/>
<line x1="364.4" y1="8.6" x2="360.4" y2="8.6" stroke="#636363" stroke-width="1.3"/>
<line x1="624.4" y1="8.6" x2="620.4" y2="8.6" stroke="#636363" stroke-width="1.3"/>
<text x="364.4" y="234.6" font-size="11.4" text-anchor="middle" >0</text>
<text x="407.7" y="234.6" font-size="11.4" text-anchor="middle" >1000</text>
<text x="451.1" y="234.6" font-size="11.4" text-anchor="middle" >2000</text>
<text x="494.4" y="234.6" font-size="11.4" text-anchor="middle" >3000</text>
<text x="537.7" y="234.6" font-size="11.4" text-anchor="middle" >4000</text>
<text x="581.1" y="234.6" font-size="11.4" text-anchor="middle" >5000</text>
<text x="624.4" y="234.6" font-size="11.4" text-anchor="middle" >6000</text>
<text x="357.8" y="222.7" font-size="11.4" text-anchor="end" >0</text>
<text x="357.8" y="152.7" font-size="11.4" text-anchor="end" >5</text>
<text x="357.8" y="82.7" font-size="11.4" text-anchor="end" >10</text>
<text x="357.8" y="12.7" font-size="11.4" text-anchor="end" >15</text>
<text x="494.4" y="256.2" font-size="13.6" text-anchor="middle" >Time (s)</text>
<text transform="translate(338.8,229.5) rotate(-90)" font-size="13.8" style="font-weight:bold">Carbon corrosion rate</text>
<text transform="translate(338.8,81.3) rotate(-90)" font-size="13.7" style="font-weight:bold">(</text>
<text transform="translate(338.8,77.6) rotate(-90)" font-size="13.7" style="font-weight:normal">µ</text>
<text transform="translate(338.8,69) rotate(-90)" font-size="13.7" style="font-weight:bold">g</text>
<text transform="translate(338.8,57.6) rotate(-90)" font-size="13.9" style="font-weight:bold">cm</text>
<text transform="translate(333.3,35.4) rotate(-90)" font-size="8.5" style="font-weight:bold">-2</text>
<text transform="translate(338.8,24.8) rotate(-90)" font-size="13.7" style="font-weight:bold">hr</text>
<text transform="translate(333.3,10.5) rotate(-90)" font-size="8.5" style="font-weight:bold">-1</text>
<text transform="translate(338.8,-0.8) rotate(-90)" font-size="13.7" style="font-weight:bold">)</text>
<text x="311" y="13.3" font-size="16.8" text-anchor="start" >c)</text>
<svg x="0" y="0" width="637" height="517" overflow="hidden"><clipPath id="cc"><rect x="364.4" y="8.6" width="260" height="210"/></clipPath><g clip-path="url(#cc)">
<polyline points="370.0,214.2 370.2,213.5 370.3,214.2 370.4,214.3 370.6,214.9 370.7,214.2 370.8,212.9 370.9,213.6 371.1,213.0 371.2,213.7 371.3,213.6 371.5,213.8 371.6,215.6 371.7,213.2 371.9,213.5 372.0,213.5 372.1,215.7 372.2,215.7 372.4,214.9 372.5,214.5 372.6,213.7 372.8,214.1 372.9,213.5 373.0,214.6 373.2,213.7 373.3,213.6 373.4,214.7 373.5,212.3 373.7,213.5 373.8,212.8 373.9,214.6 374.1,214.8 374.2,214.4 374.3,214.1 374.5,213.4 374.6,213.8 374.7,214.5 374.8,215.0 375.0,214.5 375.1,212.8 375.2,210.2 375.4,213.8 375.5,213.6 375.6,215.5 375.8,214.0 375.9,212.8 376.0,216.0 376.1,214.4 376.3,214.2 376.4,214.9 376.5,213.6 376.7,214.1 376.8,215.5 376.9,213.2 377.1,213.4 377.2,213.1 377.3,212.7 377.4,213.7 377.6,213.9 377.7,215.3 377.8,213.5 378.0,214.7 378.1,214.5 378.2,215.3 378.4,215.0 378.5,214.6 378.6,212.8 378.7,216.1 378.9,215.5 379.0,213.8 379.1,212.7 379.3,213.5 379.4,215.9 379.5,216.6 379.7,213.7 379.8,214.8 379.9,215.2 380.0,213.1 380.2,213.0 380.3,213.9 380.4,213.9 380.6,213.7 380.7,212.5 380.8,213.5 381.0,213.6 381.1,213.6 381.2,215.6 381.3,212.9 381.5,213.2 381.6,213.6 381.7,216.0 381.9,214.7 382.0,213.3 382.1,215.9 382.3,214.3 382.4,213.1 382.5,215.4 382.6,212.5 382.8,213.6 382.9,214.3 383.0,213.8 383.2,213.5 383.3,214.0 383.4,213.0 383.6,214.8 383.7,214.5 383.8,213.1 383.9,214.1 384.1,215.0 384.2,213.2 384.3,212.7 384.5,214.6 384.6,215.5 384.7,214.3 384.9,214.3 385.0,214.4 385.1,212.8 385.2,215.2 385.4,212.9 385.5,215.4 385.6,214.9 385.8,213.5 385.9,213.1 386.0,213.3 386.2,213.8 386.3,214.0 386.4,214.0 386.5,213.6 386.7,214.3 386.8,213.9 386.9,213.6 387.1,214.2 387.2,213.4 387.3,213.6 387.5,212.2 387.6,213.9 387.7,214.6 387.8,214.5 388.0,214.2 388.1,213.3 388.2,214.5 388.4,213.8 388.5,212.4 388.6,216.7 388.8,215.3 388.9,214.0 389.0,213.8 389.1,214.0 389.3,214.6 389.4,213.6 389.5,213.9 389.7,214.7 389.8,211.8 389.9,213.9 390.1,214.8 390.2,214.3 390.3,214.4 390.4,214.3 390.6,216.9 390.7,214.7 390.8,213.2 391.0,215.4 391.1,214.3 391.2,213.3 391.4,213.4 391.5,212.8 391.6,215.9 391.7,214.6 391.9,214.6 392.0,213.6 392.1,213.2 392.3,216.9 392.4,213.2 392.5,215.7 392.7,213.6 392.8,215.7 392.9,214.1 393.0,213.1 393.2,214.4 393.3,214.1 393.4,213.5 393.6,214.1 393.7,214.3 393.8,212.7 394.0,213.2 394.1,214.5 394.2,211.6 394.3,215.4 394.5,213.4 394.6,214.5 394.7,214.1 394.9,213.6 395.0,214.0 395.1,213.6 395.3,215.8 395.4,215.7 395.5,213.7 395.6,215.2 395.8,215.3 395.9,215.7 396.0,213.0 396.2,213.5 396.3,212.8 396.4,215.2 396.6,214.3 396.7,215.4 396.8,213.5 396.9,212.7 397.1,215.2 397.2,212.8 397.3,213.3 397.5,214.5 397.6,216.2 397.7,212.9 397.9,214.4 398.0,214.9 398.1,213.9 398.2,213.9 398.4,212.8 398.5,215.3 398.6,213.2 398.8,212.8 398.9,212.9 399.0,214.5 399.2,215.0 399.3,213.3 399.4,214.2 399.5,214.2 399.7,212.9 399.8,214.6 399.9,216.6 400.1,214.7 400.2,216.1 400.3,213.5 400.5,214.0 400.6,214.9 400.7,214.3 400.8,213.5 401.0,214.3 401.1,213.0 401.2,214.4 401.4,213.3 401.5,212.9 401.6,212.8 401.8,215.0 401.9,213.5 402.0,216.2 402.1,215.4 402.3,216.3 402.4,213.3 402.5,215.6 402.7,214.4 402.8,214.5 402.9,214.4 403.1,214.9 403.2,214.1 403.3,212.6 403.4,214.3 403.6,213.8 403.7,213.4 403.8,214.6 404.0,215.6 404.1,214.9 404.2,213.3 404.4,216.0 404.5,215.0 404.6,213.4 404.7,213.6 404.9,214.4 405.0,213.6 405.1,214.2 405.3,215.5 405.4,215.9 405.5,215.0 405.7,213.5 405.8,214.9 405.9,215.3 406.0,215.1 406.2,215.9 406.3,214.5 406.4,215.6 406.6,214.0 406.7,216.7 406.8,214.1 406.9,214.4 407.5,190.6 408.2,141.6 409.0,103.8 409.5,91.9 410.3,103.8 411.2,119.2 412.2,130.4 413.9,143.0 416.5,150.8 421.7,161.3 421.7,162.0 421.9,163.4 422.2,160.9 422.5,161.9 422.7,164.0 423.0,162.8 423.2,161.7 423.5,162.6 423.8,161.5 424.0,161.6 424.3,161.8 424.5,162.3 424.8,161.4 425.1,162.2 425.3,162.5 425.6,165.1 425.8,162.3 426.1,162.0 426.4,163.7 426.6,164.0 426.9,161.7 427.1,165.4 427.4,163.4 427.7,161.6 427.9,165.0 428.2,163.5 428.4,162.5 428.7,164.6 429.0,164.0 429.2,163.8 429.5,165.7 429.7,165.0 430.0,164.8 430.3,164.4 430.5,165.4 430.8,165.6 431.0,166.6 431.3,166.0 431.6,164.9 431.8,165.8 432.1,166.9 432.3,167.0 432.6,163.7 432.9,165.3 433.1,165.9 433.4,169.2 433.6,166.2 433.9,166.5 434.2,165.4 434.4,166.8 434.7,167.4 434.9,166.9 435.2,169.5 435.5,166.7 435.7,167.5 436.0,168.6 436.2,166.8 436.5,166.4 436.8,169.8 437.0,169.4 437.3,168.7 437.5,165.0 437.8,169.9 438.1,170.7 438.3,168.0 438.6,169.3 438.8,171.7 439.1,172.1 439.4,169.4 439.6,170.4 439.9,169.8 440.1,171.1 440.4,173.0 440.7,172.1 440.9,174.8 441.2,173.7 441.4,173.2 441.7,172.9 442.0,174.4 442.2,174.1 442.5,173.8 442.7,174.0 443.0,173.8 443.3,174.3 443.5,167.4 443.8,173.8 444.0,174.6 444.3,175.5 444.6,175.4 444.8,174.8 445.1,175.0 445.3,174.8 445.6,175.0 445.9,174.9 446.1,175.2 446.4,176.4 446.6,174.8 446.9,174.2 447.2,174.9 447.4,175.5 447.7,175.0 447.9,176.4 448.2,177.4 448.5,175.5 448.7,176.5 449.0,174.9 449.2,176.6 449.5,178.1 449.8,176.6 450.0,174.0 450.3,175.9 450.5,176.8 450.8,176.2 451.1,174.9 451.3,174.9 451.6,175.2 451.8,173.9 452.1,174.7 452.4,175.3 452.6,174.7 452.9,173.7 453.1,174.3 453.4,174.2 453.7,176.3 453.9,175.3 454.2,174.5 454.4,175.4 454.7,174.1 455.0,174.5 455.2,174.2 455.5,175.3 455.7,172.6 456.0,173.8 456.3,175.2 456.5,174.9 456.8,172.4 457.0,175.3 457.3,174.1 457.6,174.0 457.8,175.0 458.1,176.2 458.3,174.9 458.6,174.8 458.9,174.1 459.1,174.5 459.4,175.3 459.6,174.5 459.9,174.9 460.2,175.3 460.4,175.5 460.7,175.8 460.9,174.9 461.2,176.7 461.5,176.3 461.7,175.8 462.0,177.2 462.2,176.3 462.5,177.9 462.8,176.6 463.0,175.4 463.3,175.5 463.5,176.2 463.8,176.4 464.1,177.6 464.3,174.5 464.6,175.8 464.8,175.3 465.1,177.3 465.4,176.6 465.6,178.3 465.9,175.8 466.1,175.7 466.4,178.5 466.7,176.8 466.9,176.2 467.2,178.6 467.4,178.8 467.7,178.1 468.0,177.7 468.2,178.6 468.5,177.2 468.7,177.1 469.0,176.8 469.3,176.8 469.5,176.1 469.8,176.5 470.0,179.0 470.3,178.3 470.6,178.9 470.8,179.0 471.1,178.1 471.3,178.1 471.6,177.7 471.9,179.8 472.1,179.5 472.4,178.4 472.6,178.6 472.9,178.8 473.2,178.7 473.4,179.4 473.7,178.1 473.9,178.5 474.2,179.0 474.5,179.6 474.7,179.2 475.0,181.8 475.2,180.1 475.5,179.2 475.8,180.8 476.0,179.2 476.3,179.3 476.5,180.9 476.8,179.8 477.1,180.0 477.3,179.3 477.6,179.2 477.8,179.9 478.1,180.7 478.4,180.1 478.6,180.0 478.9,179.3 479.1,179.8 479.4,180.8 479.7,181.5 479.9,180.6 480.2,181.0 480.4,181.4 480.7,180.5 481.0,180.9 481.2,180.4 481.5,180.0 481.7,181.0 482.0,178.4 482.3,181.0 482.5,179.7 482.8,180.7 483.0,179.8 483.3,183.3 483.6,181.7 483.8,180.8 484.1,180.5 484.3,178.9 484.6,180.9 484.9,180.0 485.1,180.6 485.4,180.4 485.6,180.9 485.9,181.6 486.2,181.0 486.4,182.6 486.7,180.5 486.9,182.7 487.2,181.5 487.5,179.7 487.7,182.0 488.0,181.8 488.2,180.6 488.5,181.8 488.8,182.6 489.0,181.5 489.3,181.2 489.5,181.1 489.8,182.5 490.1,180.1 490.3,180.1 490.6,181.8 490.8,181.5 491.1,182.2 491.4,180.4 491.6,182.5 491.9,181.1 492.1,182.3 492.4,182.5 492.7,181.1 492.9,180.5 493.2,181.8 493.4,182.4 493.7,181.0 494.0,181.8 494.2,181.5 494.5,180.3 494.7,180.7 495.0,182.3 495.3,179.5 495.5,181.8 495.8,181.0 496.0,182.4 496.3,181.8 496.6,183.5 496.8,180.0 497.1,180.4 497.3,183.0 497.6,183.3 497.9,183.4 498.1,180.6 498.4,182.2 498.6,181.8 498.9,182.1 499.2,181.9 499.4,182.8 499.7,181.8 499.9,183.3 500.2,182.0 500.5,181.7 500.7,181.6 501.0,182.3 501.2,183.0 501.5,182.0 501.8,182.7 502.0,180.7 502.3,181.6 502.5,182.5 502.8,182.9 503.1,183.2 503.3,183.5 503.6,183.0 503.8,182.4 504.1,182.2 504.4,182.2 504.6,180.8 504.9,183.6 505.1,182.9 505.4,180.2 505.7,184.9 505.9,183.6 506.2,183.0 506.4,183.1 506.7,182.9 507.0,183.5 507.2,183.0 507.5,183.4 507.7,182.7 508.0,185.4 508.3,184.4 508.5,183.6 508.8,184.7 509.0,184.8 509.3,183.2 509.6,184.5 509.8,183.3 510.1,183.2 510.3,183.7 510.6,183.6 510.9,184.2 511.1,185.6 511.4,184.3 511.6,183.8 511.9,184.7 512.2,184.1 512.4,183.1 512.7,184.5 512.9,182.8 513.2,181.4 513.5,183.6 513.7,182.7 514.0,182.8 514.2,180.9 514.5,181.9 514.8,181.2 515.0,182.5 515.3,181.7 515.5,181.5 515.8,183.0 516.1,179.7 516.3,180.0 516.6,182.4 516.8,179.8 517.1,180.5 517.4,180.0 517.6,180.1 517.9,181.9 518.1,180.7 518.4,179.1 518.7,181.1 518.9,181.6 519.2,182.0 519.4,181.8 519.7,180.4 520.0,179.1 520.2,180.3 520.5,180.5 520.7,178.6 521.0,181.3 521.3,181.5 521.5,180.4 521.8,180.4 522.0,181.9 522.3,182.1 522.6,180.7 522.8,180.8 523.1,182.3 523.3,181.3 523.6,181.7 523.9,180.7 524.1,181.3 524.4,181.3 524.6,181.6 524.9,180.2 525.2,179.9 525.4,181.7 525.7,180.5 525.9,182.2 526.2,181.4 526.5,180.8 526.7,180.2 527.0,182.1 527.2,181.9 527.5,181.7 527.8,183.4 528.0,182.0 528.3,182.8 528.5,181.8 528.8,183.4 529.1,184.3 529.3,182.4 529.6,182.2 529.8,183.1 530.1,181.8 530.4,183.0 530.6,183.4 530.9,182.4 531.1,184.5 531.4,183.7 531.7,183.1 531.9,182.3 532.2,183.4 532.4,183.0 532.7,184.1 533.0,183.2 533.2,181.9 533.5,184.3 533.7,181.4 534.0,184.4 534.3,183.9 534.5,183.8 534.8,183.1 535.0,185.5 535.3,186.4 535.6,183.9 535.8,183.9 536.1,184.2 536.3,182.3 536.6,184.8 536.9,184.9 537.1,184.4 537.4,185.1 537.6,183.9 537.9,186.9 538.2,186.2 538.4,189.3 538.7,185.3 538.9,186.6 539.2,185.4 539.5,184.4 539.7,186.5 540.0,186.7 540.2,186.8 540.5,187.1 540.8,186.8 541.0,185.5 541.3,186.0 541.5,185.9 541.8,186.0 542.1,184.9 542.3,185.2 542.6,185.8 542.8,184.9 543.1,185.6 543.4,186.5 543.6,183.9 543.9,184.8 544.1,186.1 544.4,184.0 544.7,184.7 544.9,186.4 545.2,183.3 545.4,184.4 545.7,183.8 546.0,184.4 546.2,184.7 546.5,186.0 546.7,183.4 547.0,184.2 547.3,184.5 547.5,183.8 547.8,184.0 548.0,183.3 548.3,184.2 548.6,183.9 548.8,186.0 549.1,184.4 549.3,183.3 549.6,182.7 549.9,184.4 550.1,184.2 550.4,182.6 550.6,184.5 550.9,183.5 551.2,182.6 551.4,184.2 551.7,183.1 551.9,185.0 552.2,184.2 552.5,184.5 552.7,184.3 553.0,183.4 553.2,182.2 553.5,185.2 553.8,185.1 554.0,184.1 554.3,185.7 554.5,184.2 554.8,184.1 555.1,175.8 555.3,184.2 555.6,186.3 555.8,184.0 556.1,186.3 556.4,185.4 556.6,185.3 556.9,185.2 557.1,183.9 557.4,184.7 557.7,185.2 557.9,184.3 558.2,183.3 558.4,184.8 558.7,184.5 559.0,183.6 559.2,184.6 559.5,186.1 559.7,182.4 560.0,182.7 560.3,186.8 560.5,184.9 560.8,184.5 561.0,184.0 561.3,184.3 561.6,185.2 561.8,186.0 562.1,184.8 562.3,183.9 562.6,186.0 562.9,186.0 563.1,185.0 563.4,186.9 563.6,185.3 563.7,185.0 564.3,184.3 565.3,155.6 566.4,108.7 567.4,134.6 568.3,155.6 569.2,173.1 570.7,185.0 572.1,193.3 574.1,202.5 575.8,207.8" fill="none" stroke="#404040" stroke-width="1.5" stroke-linejoin="round"/>
<polyline points="370.0,217.8 370.2,217.4 370.5,218.0 370.7,218.1 370.9,217.8 371.1,217.6 371.3,217.9 371.5,217.6 371.8,217.3 372.0,217.0 372.2,216.8 372.4,218.0 372.6,217.8 372.8,218.8 373.1,216.7 373.3,218.0 373.5,217.6 373.7,217.4 373.9,218.3 374.1,217.4 374.4,217.6 374.6,218.5 374.8,217.5 375.0,217.0 375.2,218.5 375.4,217.2 375.7,217.5 375.9,217.4 376.1,217.4 376.3,217.0 376.5,217.7 376.8,217.2 377.0,217.8 377.2,217.3 377.4,218.0 377.6,217.7 377.8,216.8 378.0,217.4 378.3,217.7 378.5,218.2 378.7,218.0 378.9,217.5 379.1,217.2 379.3,217.4 379.6,217.4 379.8,217.6 380.0,217.0 380.2,217.8 380.4,217.9 380.6,217.2 380.9,217.6 381.1,217.8 381.3,217.9 381.5,217.7 381.7,217.3 381.9,217.4 382.2,218.2 382.4,217.4 382.6,217.5 382.8,218.1 383.0,217.2 383.2,217.8 383.5,217.8 383.7,217.2 383.9,217.0 384.1,218.0 384.3,217.4 384.5,218.0 384.8,216.5 385.0,217.9 385.2,217.0 385.4,217.9 385.6,217.2 385.8,216.5 386.1,218.9 386.3,217.8 386.5,217.4 386.7,217.7 386.9,217.9 387.1,216.6 387.4,217.6 387.6,218.4 387.8,217.2 388.0,218.5 388.2,217.1 388.4,217.9 388.7,217.5 388.9,217.0 389.1,217.6 389.3,218.3 389.5,218.5 389.8,217.0 390.0,217.3 390.2,218.0 390.4,217.2 390.6,217.4 390.8,217.3 391.0,218.7 391.3,217.8 391.5,217.2 391.7,217.3 391.9,217.2 392.1,218.8 392.3,217.5 392.6,217.4 392.8,216.4 393.0,218.1 393.2,217.8 393.4,217.6 393.6,217.2 393.9,217.8 394.1,217.1 394.3,218.0 394.5,217.5 394.7,217.9 394.9,217.5 395.2,218.0 395.4,218.4 395.6,217.1 395.8,217.5 396.0,217.9 396.2,217.5 396.5,217.1 396.7,218.1 396.9,217.7 397.1,217.4 397.3,217.4 397.5,217.8 397.8,218.7 398.0,217.0 398.2,217.5 398.4,217.6 398.6,217.8 398.8,217.5 399.1,217.8 399.3,218.1 399.5,218.0 399.7,217.9 399.9,217.9 400.1,218.2 400.4,217.3 400.6,218.3 400.8,217.3 401.0,218.1 401.2,217.4 401.4,216.9 401.7,217.5 401.9,218.0 402.1,217.6 402.3,217.5 402.5,218.5 402.8,217.9 403.0,217.5 403.2,217.8 403.4,217.6 403.6,217.3 403.8,217.2 404.0,217.2 404.3,217.3 404.5,217.8 404.7,217.6 404.9,217.8 405.1,217.8 405.3,217.7 405.6,218.5 405.8,214.8 406.0,211.6 406.2,214.9 406.4,217.2 406.6,217.1 406.9,217.7 407.1,216.7 407.1,217.2 407.7,214.4 408.2,8.6 408.3,-19.4 409.9,-26.4 410.2,8.6 411.2,99.6 412.2,130.4 413.0,164.6 413.0,167.8 413.2,165.9 413.5,169.1 413.7,166.7 413.9,165.7 414.1,173.4 414.3,171.2 414.5,171.8 414.8,174.0 415.0,174.0 415.2,178.7 415.4,175.9 415.6,177.6 415.8,178.8 416.1,180.0 416.3,178.9 416.5,180.8 416.7,180.3 416.9,181.7 417.1,184.4 417.4,182.0 417.6,182.2 417.8,181.9 418.0,184.4 418.2,183.8 418.4,183.4 418.7,184.5 418.9,183.5 419.1,183.1 419.3,187.0 419.5,188.7 419.7,185.5 420.0,185.0 420.2,186.1 420.4,186.6 420.6,188.7 420.8,189.2 421.0,187.5 421.3,190.1 421.5,191.6 421.7,190.9 421.9,186.8 422.1,187.9 422.3,191.5 422.6,191.9 422.8,190.8 423.0,192.2 423.2,189.7 423.4,191.5 423.6,192.9 423.9,190.0 424.1,192.5 424.3,191.6 424.5,192.0 424.7,192.5 424.9,191.8 425.2,200.4 425.4,194.8 425.6,195.4 425.8,194.3 426.0,193.8 426.2,192.9 426.5,197.6 426.7,192.4 426.9,193.1 427.1,194.4 427.3,194.4 427.5,196.3 427.8,193.9 428.0,193.2 428.2,193.3 428.4,194.2 428.6,199.0 428.8,193.1 429.1,194.3 429.3,193.6 429.5,193.9 429.7,194.4 429.9,193.1 430.1,195.5 430.4,195.3 430.6,196.0 430.8,196.0 431.0,193.1 431.2,192.9 431.4,195.2 431.7,194.6 431.9,193.9 432.1,201.8 432.3,194.0 432.5,197.2 432.7,196.4 433.0,195.1 433.2,194.0 433.4,195.7 433.6,197.0 433.8,196.4 434.0,196.9 434.3,197.2 434.5,194.3 434.7,197.0 434.9,196.3 435.1,193.6 435.3,194.9 435.6,196.1 435.8,197.3 436.0,196.1 436.2,194.7 436.4,196.0 436.6,195.2 436.9,196.8 437.1,196.3 437.3,197.3 437.5,196.6 437.7,195.5 437.9,199.0 438.2,200.4 438.4,197.1 438.6,198.2 438.8,197.9 439.0,196.6 439.2,195.1 439.5,196.9 439.7,197.4 439.9,199.8 440.1,195.5 440.3,197.8 440.5,198.0 440.8,199.4 441.0,198.1 441.2,199.5 441.4,198.0 441.6,197.6 441.8,198.2 442.1,197.9 442.3,199.3 442.5,196.5 442.7,199.2 442.9,200.7 443.1,198.7 443.4,199.4 443.6,199.8 443.8,199.0 444.0,198.2 444.2,200.1 444.4,198.8 444.7,196.9 444.9,197.9 445.1,198.9 445.3,198.6 445.5,199.0 445.7,198.9 446.0,198.0 446.2,199.1 446.4,202.0 446.6,199.0 446.8,200.2 447.0,198.3 447.3,199.9 447.5,199.0 447.7,196.5 447.9,200.6 448.1,200.7 448.3,201.1 448.6,202.4 448.8,201.8 449.0,199.0 449.2,200.3 449.4,201.9 449.6,201.4 449.9,198.8 450.1,200.6 450.3,200.1 450.5,199.3 450.7,198.0 450.9,197.3 451.2,198.5 451.4,199.7 451.6,199.6 451.8,197.6 452.0,198.2 452.2,200.4 452.5,199.4 452.7,199.7 452.9,200.0 453.1,200.7 453.3,201.7 453.5,200.7 453.8,202.0 454.0,198.6 454.2,199.4 454.4,201.7 454.6,198.4 454.8,199.0 455.1,202.6 455.3,197.9 455.5,199.2 455.7,197.6 455.9,201.8 456.1,199.6 456.4,199.7 456.6,200.0 456.8,200.1 457.0,199.0 457.2,202.2 457.4,201.9 457.7,202.1 457.9,201.1 458.1,201.2 458.3,199.9 458.5,200.1 458.7,200.4 459.0,201.3 459.2,201.0 459.4,199.3 459.6,199.5 459.8,200.4 460.0,200.9 460.3,198.6 460.5,201.3 460.7,199.8 460.9,199.1 461.1,200.9 461.3,199.6 461.6,202.0 461.8,199.4 462.0,200.4 462.2,202.7 462.4,199.9 462.6,201.8 462.9,199.1 463.1,201.6 463.3,201.0 463.5,200.4 463.7,201.2 463.9,200.5 464.2,201.5 464.4,200.0 464.6,200.8 464.8,200.6 465.0,204.4 465.2,199.4 465.5,200.9 465.7,203.2 465.9,200.8 466.1,200.4 466.3,199.6 466.5,202.4 466.8,199.1 467.0,201.3 467.2,198.1 467.4,201.3 467.6,200.3 467.8,201.6 468.1,202.6 468.3,199.8 468.5,200.1 468.7,199.3 468.9,200.2 469.1,202.0 469.4,203.4 469.6,202.1 469.8,202.2 470.0,202.4 470.2,200.7 470.4,201.0 470.7,201.8 470.9,201.2 471.1,201.7 471.3,201.2 471.5,200.6 471.7,200.3 472.0,202.4 472.2,203.5 472.4,199.8 472.6,201.5 472.8,200.3 473.0,203.7 473.3,202.1 473.5,201.7 473.7,203.6 473.9,202.4 474.1,200.9 474.3,200.4 474.6,199.8 474.8,202.9 475.0,203.6 475.2,201.2 475.4,200.7 475.6,201.7 475.9,203.6 476.1,201.0 476.3,201.0 476.5,201.3 476.7,202.7 476.9,201.7 477.2,201.1 477.4,202.8 477.6,204.5 477.8,201.8 478.0,201.6 478.2,202.2 478.5,201.1 478.7,203.0 478.9,202.3 479.1,202.6 479.3,201.5 479.5,200.3 479.8,202.6 480.0,199.7 480.2,200.4 480.4,201.3 480.6,201.6 480.8,200.1 481.1,202.6 481.3,202.5 481.5,203.7 481.7,201.8 481.9,200.7 482.1,201.7 482.4,201.8 482.6,202.6 482.8,202.2 483.0,204.2 483.2,201.1 483.4,202.9 483.7,203.8 483.9,203.4 484.1,203.5 484.3,201.4 484.5,201.1 484.7,204.2 485.0,201.3 485.2,201.4 485.4,203.2 485.6,204.4 485.8,203.4 486.0,203.3 486.3,202.1 486.5,203.0 486.7,205.1 486.9,202.3 487.1,204.5 487.3,201.4 487.6,204.1 487.8,203.5 488.0,203.7 488.2,203.3 488.4,201.0 488.6,201.5 488.9,201.9 489.1,202.2 489.3,204.6 489.5,203.3 489.7,203.4 489.9,203.9 490.2,202.0 490.4,203.6 490.6,203.6 490.8,204.0 491.0,205.3 491.2,202.0 491.5,201.1 491.7,202.5 491.9,204.0 492.1,206.2 492.3,202.5 492.5,201.2 492.8,202.4 493.0,201.6 493.2,200.9 493.4,201.4 493.6,203.4 493.8,201.5 494.1,201.9 494.3,204.8 494.5,203.4 494.7,204.6 494.9,203.0 495.1,202.1 495.4,204.2 495.6,205.5 495.8,201.3 496.0,202.4 496.2,201.1 496.4,204.6 496.7,201.6 496.9,200.3 497.1,200.4 497.3,203.2 497.5,202.6 497.7,203.2 498.0,201.7 498.2,201.7 498.4,202.9 498.6,204.7 498.8,202.1 499.0,203.6 499.3,202.2 499.5,202.7 499.7,201.0 499.9,201.6 500.1,203.6 500.3,202.6 500.6,200.9 500.8,203.8 501.0,202.6 501.2,201.6 501.4,201.5 501.6,202.5 501.9,204.8 502.1,204.7 502.3,202.8 502.5,202.7 502.7,200.0 502.9,204.3 503.2,201.8 503.4,202.2 503.6,205.3 503.8,204.3 504.0,203.0 504.2,203.9 504.5,203.4 504.7,202.7 504.9,204.3 505.1,202.7 505.3,215.8 505.5,204.0 505.8,202.6 506.0,204.0 506.2,203.0 506.4,201.3 506.6,203.3 506.8,203.5 507.1,202.4 507.3,203.8 507.5,202.0 507.7,205.0 507.9,202.6 508.1,204.0 508.4,204.4 508.6,201.2 508.8,204.5 509.0,201.2 509.2,202.6 509.4,201.6 509.7,204.7 509.9,202.0 510.1,201.6 510.3,203.6 510.5,203.7 510.7,200.4 511.0,203.3 511.2,204.1 511.4,204.3 511.6,203.0 511.8,203.1 512.0,203.3 512.3,201.4 512.5,204.0 512.7,203.0 512.9,201.8 513.1,204.9 513.3,202.3 513.6,201.3 513.8,205.3 514.0,205.0 514.2,205.0 514.4,206.0 514.6,203.1 514.9,206.0 515.1,203.1 515.3,201.9 515.5,205.7 515.7,204.1 515.9,206.1 516.2,202.8 516.4,204.7 516.6,204.1 516.8,203.7 517.0,203.1 517.2,204.2 517.5,203.8 517.7,204.5 517.9,203.7 518.1,205.3 518.3,203.7 518.5,206.3 518.8,204.5 519.0,201.4 519.2,203.8 519.4,205.5 519.6,203.6 519.8,205.1 520.1,206.0 520.3,204.8 520.5,215.5 520.7,203.5 520.9,204.1 521.1,205.1 521.4,205.3 521.6,202.3 521.8,203.7 522.0,205.2 522.2,206.7 522.4,205.8 522.7,201.0 522.9,205.5 523.1,204.2 523.3,203.8 523.5,204.3 523.7,204.5 524.0,205.9 524.2,205.5 524.4,202.1 524.6,205.2 524.8,203.1 525.0,206.4 525.3,204.6 525.5,203.9 525.7,203.0 525.9,205.7 526.1,203.5 526.3,203.8 526.6,205.3 526.8,203.7 527.0,205.5 527.2,205.4 527.4,204.4 527.6,207.8 527.9,204.5 528.1,205.7 528.3,206.3 528.5,205.0 528.7,203.5 528.9,205.0 529.2,202.9 529.4,206.0 529.6,206.2 529.8,202.6 530.0,204.0 530.2,203.4 530.5,205.6 530.7,203.6 530.9,204.3 531.1,203.8 531.3,204.6 531.5,203.1 531.8,205.5 532.0,205.9 532.2,206.6 532.4,203.2 532.6,205.7 532.8,206.0 533.1,205.9 533.3,205.3 533.5,206.4 533.7,205.2 533.9,205.6 534.1,205.5 534.4,206.0 534.6,204.8 534.8,205.4 535.0,204.7 535.2,204.6 535.4,204.5 535.7,207.7 535.9,205.6 536.1,205.9 536.3,204.0 536.5,207.0 536.7,205.9 537.0,205.4 537.2,205.4 537.4,203.8 537.6,205.6 537.8,203.8 538.0,206.9 538.3,207.4 538.5,203.6 538.7,204.6 538.9,204.5 539.1,205.0 539.3,204.5 539.6,206.7 539.8,204.0 540.0,205.9 540.2,204.0 540.4,205.1 540.6,207.7 540.9,206.9 541.1,203.8 541.3,205.5 541.5,205.8 541.7,205.0 541.9,205.9 542.2,206.0 542.4,205.2 542.6,205.2 542.8,203.5 543.0,205.3 543.2,203.0 543.5,203.2 543.7,203.3 543.9,204.1 544.1,205.3 544.3,205.3 544.5,205.7 544.8,206.4 545.0,205.6 545.2,206.3 545.4,203.5 545.6,204.9 545.8,206.1 546.1,208.0 546.3,205.7 546.5,206.1 546.7,207.0 546.9,207.1 547.1,208.5 547.4,205.0 547.6,205.8 547.8,202.5 548.0,205.8 548.2,205.9 548.4,204.0 548.7,205.6 548.9,205.6 549.1,206.3 549.3,206.6 549.5,204.0 549.7,204.7 550.0,203.8 550.2,206.4 550.4,206.0 550.6,207.2 550.8,204.9 551.0,207.9 551.3,205.4 551.5,204.8 551.7,204.4 551.9,207.4 552.1,204.9 552.3,207.2 552.6,207.3 552.8,208.0 553.0,204.9 553.2,204.3 553.4,207.2 553.6,207.4 553.9,206.9 554.1,203.3 554.3,205.3 554.5,207.2 554.7,208.8 554.9,207.5 555.2,205.1 555.4,204.3 555.6,207.0 555.8,207.6 556.0,207.4 556.2,209.1 556.5,205.6 556.7,208.1 556.9,205.4 557.1,208.9 557.3,208.4 557.5,206.4 557.8,207.8 558.0,205.8 558.2,206.8 558.4,208.3 558.6,206.1 558.8,205.8 559.1,209.3 559.3,204.6 559.5,206.3 559.7,205.9 559.9,209.3 560.1,218.6 560.4,207.4 560.6,205.6 560.8,214.4 561.0,208.1 561.2,209.5 561.4,207.3 561.7,206.6 561.9,209.1 562.1,207.8 562.3,206.4 562.5,205.0 562.7,206.2 563.0,207.4 563.2,208.6 563.4,208.3 563.6,207.9 563.8,206.9 564.0,207.2 564.2,207.4 565.0,197.6 565.5,179.4 565.9,165.4 566.5,176.6 567.8,193.0 569.4,207.0 572.4,215.0 578.3,216.4 578.3,215.4 578.6,216.3 579.0,217.1 579.3,215.7 579.7,216.1 580.0,216.7 580.4,217.2 580.7,217.9 581.1,217.5 581.4,216.5 581.8,217.5 582.1,217.9 582.5,217.1 582.8,217.2 583.1,217.0 583.5,217.1 583.8,216.7 584.2,218.1 584.5,217.1 584.9,218.3 585.2,217.4 585.6,217.8 585.9,217.8 586.3,217.5 586.6,218.1 587.0,217.5 587.3,217.6 587.7,218.1 588.0,218.5 588.3,218.6 588.7,218.5 589.0,218.4 589.4,218.3 589.7,216.7" fill="none" stroke="#ff5d04" stroke-width="1.4" stroke-linejoin="round"/>
</g></svg>
<line x1="525.1" y1="22.3" x2="555.2" y2="22.3" stroke="#555" stroke-width="1.5"/>
<line x1="525.1" y1="38.3" x2="555.2" y2="38.3" stroke="#ff5d04" stroke-width="1.5"/>
<text x="558.4" y="26.4" font-size="12.6" text-anchor="start" >PtCo30/H</text>
<text x="558.4" y="42.4" font-size="12.6" text-anchor="start" >PtCo50/H</text>
<line x1="364.4" y1="475.8" x2="364.4" y2="479.8" stroke="#636363" stroke-width="1.3"/>
<line x1="364.4" y1="270.5" x2="364.4" y2="274.5" stroke="#636363" stroke-width="1.3"/>
<line x1="382.6" y1="475.8" x2="382.6" y2="478" stroke="#636363" stroke-width="1.3"/>
<line x1="382.6" y1="270.5" x2="382.6" y2="272.7" stroke="#636363" stroke-width="1.3"/>
<line x1="400.8" y1="475.8" x2="400.8" y2="479.8" stroke="#636363" stroke-width="1.3"/>
<line x1="400.8" y1="270.5" x2="400.8" y2="274.5" stroke="#636363" stroke-width="1.3"/>
<line x1="419" y1="475.8" x2="419" y2="478" stroke="#636363" stroke-width="1.3"/>
<line x1="419" y1="270.5" x2="419" y2="272.7" stroke="#636363" stroke-width="1.3"/>
<line x1="437.2" y1="475.8" x2="437.2" y2="479.8" stroke="#636363" stroke-width="1.3"/>
<line x1="437.2" y1="270.5" x2="437.2" y2="274.5" stroke="#636363" stroke-width="1.3"/>
<line x1="455.4" y1="475.8" x2="455.4" y2="478" stroke="#636363" stroke-width="1.3"/>
<line x1="455.4" y1="270.5" x2="455.4" y2="272.7" stroke="#636363" stroke-width="1.3"/>
<line x1="473.6" y1="475.8" x2="473.6" y2="479.8" stroke="#636363" stroke-width="1.3"/>
<line x1="473.6" y1="270.5" x2="473.6" y2="274.5" stroke="#636363" stroke-width="1.3"/>
<line x1="491.8" y1="475.8" x2="491.8" y2="478" stroke="#636363" stroke-width="1.3"/>
<line x1="491.8" y1="270.5" x2="491.8" y2="272.7" stroke="#636363" stroke-width="1.3"/>
<line x1="510" y1="475.8" x2="510" y2="479.8" stroke="#636363" stroke-width="1.3"/>
<line x1="510" y1="270.5" x2="510" y2="274.5" stroke="#636363" stroke-width="1.3"/>
<line x1="528.2" y1="475.8" x2="528.2" y2="478" stroke="#636363" stroke-width="1.3"/>
<line x1="528.2" y1="270.5" x2="528.2" y2="272.7" stroke="#636363" stroke-width="1.3"/>
<line x1="546.4" y1="475.8" x2="546.4" y2="479.8" stroke="#636363" stroke-width="1.3"/>
<line x1="546.4" y1="270.5" x2="546.4" y2="274.5" stroke="#636363" stroke-width="1.3"/>
<line x1="564.6" y1="475.8" x2="564.6" y2="478" stroke="#636363" stroke-width="1.3"/>
<line x1="564.6" y1="270.5" x2="564.6" y2="272.7" stroke="#636363" stroke-width="1.3"/>
<line x1="582.8" y1="475.8" x2="582.8" y2="479.8" stroke="#636363" stroke-width="1.3"/>
<line x1="582.8" y1="270.5" x2="582.8" y2="274.5" stroke="#636363" stroke-width="1.3"/>
<line x1="601" y1="475.8" x2="601" y2="478" stroke="#636363" stroke-width="1.3"/>
<line x1="601" y1="270.5" x2="601" y2="272.7" stroke="#636363" stroke-width="1.3"/>
<line x1="619.2" y1="475.8" x2="619.2" y2="479.8" stroke="#636363" stroke-width="1.3"/>
<line x1="619.2" y1="270.5" x2="619.2" y2="274.5" stroke="#636363" stroke-width="1.3"/>
<line x1="364.4" y1="475.8" x2="360.4" y2="475.8" stroke="#636363" stroke-width="1.3"/>
<line x1="619.2" y1="475.8" x2="615.2" y2="475.8" stroke="#636363" stroke-width="1.3"/>
<line x1="364.4" y1="458.7" x2="362.2" y2="458.7" stroke="#636363" stroke-width="1.3"/>
<line x1="619.2" y1="458.7" x2="617" y2="458.7" stroke="#636363" stroke-width="1.3"/>
<line x1="364.4" y1="441.6" x2="360.4" y2="441.6" stroke="#636363" stroke-width="1.3"/>
<line x1="619.2" y1="441.6" x2="615.2" y2="441.6" stroke="#636363" stroke-width="1.3"/>
<line x1="364.4" y1="424.5" x2="362.2" y2="424.5" stroke="#636363" stroke-width="1.3"/>
<line x1="619.2" y1="424.5" x2="617" y2="424.5" stroke="#636363" stroke-width="1.3"/>
<line x1="364.4" y1="407.4" x2="360.4" y2="407.4" stroke="#636363" stroke-width="1.3"/>
<line x1="619.2" y1="407.4" x2="615.2" y2="407.4" stroke="#636363" stroke-width="1.3"/>
<line x1="364.4" y1="390.3" x2="362.2" y2="390.3" stroke="#636363" stroke-width="1.3"/>
<line x1="619.2" y1="390.3" x2="617" y2="390.3" stroke="#636363" stroke-width="1.3"/>
<line x1="364.4" y1="373.1" x2="360.4" y2="373.1" stroke="#636363" stroke-width="1.3"/>
<line x1="619.2" y1="373.1" x2="615.2" y2="373.1" stroke="#636363" stroke-width="1.3"/>
<line x1="364.4" y1="356" x2="362.2" y2="356" stroke="#636363" stroke-width="1.3"/>
<line x1="619.2" y1="356" x2="617" y2="356" stroke="#636363" stroke-width="1.3"/>
<line x1="364.4" y1="338.9" x2="360.4" y2="338.9" stroke="#636363" stroke-width="1.3"/>
<line x1="619.2" y1="338.9" x2="615.2" y2="338.9" stroke="#636363" stroke-width="1.3"/>
<line x1="364.4" y1="321.8" x2="362.2" y2="321.8" stroke="#636363" stroke-width="1.3"/>
<line x1="619.2" y1="321.8" x2="617" y2="321.8" stroke="#636363" stroke-width="1.3"/>
<line x1="364.4" y1="304.7" x2="360.4" y2="304.7" stroke="#636363" stroke-width="1.3"/>
<line x1="619.2" y1="304.7" x2="615.2" y2="304.7" stroke="#636363" stroke-width="1.3"/>
<line x1="364.4" y1="287.6" x2="362.2" y2="287.6" stroke="#636363" stroke-width="1.3"/>
<line x1="619.2" y1="287.6" x2="617" y2="287.6" stroke="#636363" stroke-width="1.3"/>
<line x1="364.4" y1="270.5" x2="360.4" y2="270.5" stroke="#636363" stroke-width="1.3"/>
<line x1="619.2" y1="270.5" x2="615.2" y2="270.5" stroke="#636363" stroke-width="1.3"/>
<text x="364.4" y="491.8" font-size="11.4" text-anchor="middle" >0</text>
<text x="400.8" y="491.8" font-size="11.4" text-anchor="middle" >500</text>
<text x="437.2" y="491.8" font-size="11.4" text-anchor="middle" >1000</text>
<text x="473.6" y="491.8" font-size="11.4" text-anchor="middle" >1500</text>
<text x="510" y="491.8" font-size="11.4" text-anchor="middle" >2000</text>
<text x="546.4" y="491.8" font-size="11.4" text-anchor="middle" >2500</text>
<text x="582.8" y="491.8" font-size="11.4" text-anchor="middle" >3000</text>
<text x="619.2" y="491.8" font-size="11.4" text-anchor="middle" >3500</text>
<text x="357.8" y="479.9" font-size="11.4" text-anchor="end" >0</text>
<text x="357.8" y="445.7" font-size="11.4" text-anchor="end" >20</text>
<text x="357.8" y="411.5" font-size="11.4" text-anchor="end" >40</text>
<text x="357.8" y="377.2" font-size="11.4" text-anchor="end" >60</text>
<text x="357.8" y="343" font-size="11.4" text-anchor="end" >80</text>
<text x="357.8" y="308.8" font-size="11.4" text-anchor="end" >100</text>
<text x="357.8" y="274.6" font-size="11.4" text-anchor="end" >120</text>
<text x="491.8" y="513.4" font-size="13.6" text-anchor="middle" >Time (s)</text>
<text transform="translate(332.5,487) rotate(-90)" font-size="13.6" style="font-weight:bold">Carbon corrosion rate</text>
<text transform="translate(332.5,340.4) rotate(-90)" font-size="13.4" style="font-weight:bold">(</text>
<text transform="translate(332.5,336.3) rotate(-90)" font-size="13.4" style="font-weight:normal">µ</text>
<text transform="translate(332.5,329.2) rotate(-90)" font-size="13.4" style="font-weight:bold">g</text>
<text transform="translate(332.5,318.3) rotate(-90)" font-size="13.9" style="font-weight:bold">cm</text>
<text transform="translate(327,297.4) rotate(-90)" font-size="8.5" style="font-weight:bold">-2</text>
<text transform="translate(332.5,285.2) rotate(-90)" font-size="13.4" style="font-weight:bold">hr</text>
<text transform="translate(327,272.8) rotate(-90)" font-size="8.5" style="font-weight:bold">-1</text>
<text transform="translate(332.5,263.4) rotate(-90)" font-size="13.4" style="font-weight:bold">)</text>
<text x="310" y="277.6" font-size="16.8" text-anchor="start" >d)</text>
<polyline points="392.7,474.8 393.4,474.8 394.2,475.5 394.9,475.4 395.6,475.3 396.4,475.0 397.1,475.6 397.8,474.4 398.5,475.4 399.3,474.7 400.0,476.1 400.7,475.1 401.5,475.0 402.2,475.0 402.9,474.9 403.6,475.0 404.4,475.0 405.1,475.9 405.8,475.4 406.6,476.1 407.3,474.8 408.0,475.0 408.7,475.2 409.5,475.5 410.2,475.4 410.9,474.3 411.6,474.4 412.4,475.1 413.1,474.6 413.8,475.8 414.6,475.9 415.3,475.3 416.0,475.5 416.7,475.4 417.5,475.0 418.2,473.8 418.9,475.4 419.7,475.1 420.4,475.0 421.1,475.1 421.8,474.7 422.6,474.4 423.3,475.6 424.0,475.0 424.8,475.2 425.5,475.0 426.2,475.8 426.9,475.9 427.7,476.1 428.4,474.9 429.1,475.0 429.8,475.1 430.6,476.1 431.3,475.3 432.0,475.4 432.8,475.7 433.5,475.5 434.2,474.8 434.9,474.9 435.7,475.1 436.4,474.9 437.1,475.4 437.9,475.1 437.9,474.9 438.1,468.0 438.2,461.3 438.4,454.5 438.5,447.6 438.7,441.0 438.8,432.9 438.9,426.8 439.1,420.0 439.2,412.1 439.4,405.7 439.5,400.6 439.7,392.4 439.8,385.4 440.0,377.7 440.1,371.3 440.3,364.8 440.4,359.6 440.5,352.6 440.7,344.7 440.8,337.6 441.0,332.3 441.1,324.8 441.3,318.0 441.4,310.6 441.6,303.5 441.7,304.0 441.9,304.9 442.0,301.7 442.2,301.1 442.3,303.0 442.4,302.4 442.6,303.9 442.7,304.5 442.9,305.5 443.0,307.8 443.2,307.1 443.3,307.4 443.5,310.3 443.6,307.5 443.8,307.9 443.9,308.8 444.0,309.1 444.2,311.1 444.3,312.9 444.5,313.7 444.6,314.5 444.8,314.0 444.9,314.7 445.1,314.2 445.2,317.6 445.4,313.0 445.5,313.4 445.6,316.3 445.8,315.9 445.9,316.4 446.1,317.0 446.2,317.9 446.4,318.1 446.5,319.2 446.7,318.5 446.8,319.0 447.0,319.0 447.1,320.6 447.2,319.9 447.4,320.3 447.5,320.0 447.7,322.2 447.8,320.9 448.0,320.6 448.1,321.3 448.3,322.7 448.4,323.1 448.6,323.1 448.7,322.4 448.8,321.7 449.0,323.9 449.1,324.7 449.3,323.9 449.4,324.4 449.6,325.9 449.7,326.0 449.9,325.6 450.0,325.0 450.2,327.3 450.3,327.4 450.4,326.1 450.6,328.2 450.7,327.1 450.9,327.1 451.0,327.9 451.2,329.1 451.3,328.4 451.5,328.7 451.6,328.0 451.8,329.3 451.9,327.3 452.1,330.3 452.2,328.7 452.3,328.6 452.5,327.6 452.6,329.3 452.8,328.1 452.9,329.3 453.1,328.0 453.2,327.0 453.4,329.3 453.5,328.4 453.7,329.9 453.8,327.9 453.9,327.7 454.1,329.0 454.2,330.2 454.4,328.7 454.5,327.9 454.7,328.0 454.8,328.3 455.0,331.1 455.1,330.0 455.3,327.8 455.4,330.6 455.5,328.2 455.7,327.5 455.8,328.7 456.0,328.4 456.1,330.0 456.3,331.0 456.4,329.9 456.6,330.1 456.7,330.0 456.9,329.3 457.0,330.3 457.1,330.0 457.3,329.8 457.4,330.4 457.6,328.5 457.7,330.0 457.9,330.5 458.0,330.9 458.2,331.4 458.3,329.4 458.5,330.7 458.6,332.1 458.7,331.6 458.9,331.2 459.0,331.6 459.2,330.1 459.3,332.5 459.5,330.9 459.6,331.3 459.8,332.8 459.9,331.6 460.1,331.8 460.2,331.2 460.4,332.3 460.5,331.6 460.6,333.7 460.8,333.2 460.9,331.3 461.1,331.1 461.2,332.3 461.4,333.0 461.5,331.3 461.7,334.6 461.8,333.4 462.0,331.9 462.1,332.0 462.2,333.8 462.4,334.7 462.5,331.3 462.7,332.7 462.8,333.8 463.0,332.9 463.1,332.1 463.3,335.7 463.4,332.0 463.6,332.4 463.7,335.3 463.8,332.4 464.0,335.1 464.1,332.2 464.3,333.0 464.4,331.1 464.6,334.1 464.7,333.5 464.9,332.5 465.0,334.3 465.2,334.4 465.3,334.1 465.4,333.8 465.6,334.9 465.7,333.3 465.9,333.3 466.0,333.9 466.2,332.2 466.3,334.4 466.5,332.7 466.6,334.7 466.8,333.4 466.9,336.2 467.0,334.1 467.2,334.5 467.3,334.9 467.5,335.0 467.6,334.8 467.8,335.2 467.9,336.8 468.1,335.2 468.2,335.2 468.4,335.2 468.5,335.8 468.6,335.0 468.8,334.1 468.9,335.2 469.1,335.5 469.2,333.7 469.4,334.2 469.5,334.3 469.7,334.1 469.8,335.7 470.0,335.6 470.1,334.4 470.3,336.2 470.4,335.8 470.5,335.4 470.7,335.4 470.8,336.2 471.0,335.0 471.1,336.2 471.3,335.4 471.4,335.1 471.6,335.6 471.7,335.6 471.9,337.5 472.0,337.8 472.1,337.1 472.3,336.1 472.4,335.1 472.6,337.9 472.7,336.6 472.9,337.9 473.0,338.0 473.2,337.7 473.3,336.9 473.5,337.5 473.6,336.7 473.7,339.1 473.9,337.4 474.0,337.5 474.2,338.5 474.3,338.3 474.5,339.5 474.6,340.2 474.8,339.7 474.9,340.1 475.1,336.8 475.2,340.3 475.3,338.4 475.5,340.0 475.6,340.0 475.8,339.8 475.9,341.5 476.1,340.0 476.2,340.7 476.4,342.7 476.5,340.8 476.7,341.0 476.8,341.3 476.9,340.4 477.1,342.5 477.2,341.7 477.4,341.7 477.5,343.5 477.7,341.6 477.8,344.3 478.0,344.4 478.1,342.8 478.3,344.5 478.4,343.7 478.6,345.4 478.7,343.9 478.8,345.2 479.0,344.0 479.1,346.0 479.3,344.3 479.4,345.1 479.6,345.0 479.7,345.3 479.9,345.3 480.0,346.8 480.2,348.2 480.3,345.9 480.4,347.0 480.6,346.7 480.7,346.1 480.9,348.5 481.0,347.6 481.2,347.6 481.3,348.2 481.5,347.1 481.6,347.7 481.8,348.5 481.9,348.8 482.0,347.3 482.2,348.9 482.3,347.9 482.5,348.2 482.6,350.6 482.8,350.0 482.9,349.2 483.1,349.0 483.2,348.8 483.4,349.0 483.5,348.9 483.6,350.4 483.8,350.4 483.9,349.7 484.1,351.0 484.2,349.8 484.4,352.4 484.5,350.5 484.7,351.5 484.8,353.3 485.0,350.6 485.1,351.1 485.2,351.2 485.4,352.1 485.5,351.4 485.7,349.5 485.8,351.5 486.0,353.8 486.1,351.3 486.3,351.5 486.4,350.3 486.6,350.4 486.7,350.8 486.8,350.6 487.0,348.7 487.1,350.9 487.3,347.6 487.4,349.8 487.6,350.2 487.7,348.3 487.9,348.4 488.0,349.7 488.2,347.9 488.3,350.2 488.5,349.2 488.6,347.2 488.7,348.3 488.9,349.2 489.0,347.4 489.2,346.8 489.3,347.6 489.5,349.1 489.6,347.6 489.8,347.0 489.9,346.7 490.1,345.7 490.2,347.7 490.3,348.0 490.5,347.6 490.6,346.4 490.8,348.5 490.9,346.4 491.1,350.3 491.2,347.0 491.4,348.4 491.5,347.4 491.7,347.2 491.8,349.0 491.9,348.0 492.1,347.7 492.2,347.4 492.4,348.9 492.5,349.0 492.7,349.9 492.8,345.8 493.0,348.4 493.1,348.4 493.3,349.7 493.4,347.4 493.5,348.8 493.7,347.0 493.8,347.6 494.0,348.4 494.1,347.8 494.3,349.6 494.4,348.9 494.6,349.1 494.7,349.8 494.9,348.7 495.0,348.9 495.1,347.4 495.3,351.9 495.4,349.5 495.6,349.7 495.7,349.3 495.9,348.6 496.0,348.6 496.2,349.0 496.3,349.5 496.5,348.6 496.6,348.8 496.8,350.9 496.9,349.5 497.0,350.5 497.2,350.4 497.3,349.2 497.5,349.3 497.6,349.3 497.8,350.3 497.9,349.7 498.1,350.4 498.2,349.2 498.4,349.1 498.5,348.2 498.6,348.8 498.8,350.8 498.9,350.6 499.1,351.2 499.2,350.2 499.4,348.7 499.5,350.0 499.7,352.8 499.8,352.1 500.0,352.3 500.1,350.7 500.2,351.3 500.4,351.2 500.5,349.9 500.7,352.4 500.8,352.6 501.0,350.1 501.1,351.7 501.3,352.9 501.4,354.1 501.6,353.8 501.7,354.8 501.8,352.6 502.0,352.7 502.1,352.0 502.3,353.1 502.4,353.8 502.6,353.9 502.7,351.7 502.9,355.1 503.0,353.5 503.2,353.7 503.3,353.3 503.4,354.4 503.6,353.7 503.7,353.5 503.9,354.5 504.0,354.9 504.2,354.8 504.3,355.6 504.5,355.0 504.6,355.2 504.8,354.8 504.9,353.9 505.0,354.0 505.2,355.7 505.3,354.8 505.5,355.2 505.6,354.8 505.8,355.6 505.9,355.5 506.1,356.2 506.2,356.6 506.4,355.2 506.5,354.9 506.7,355.5 506.8,355.8 506.9,356.0 507.1,356.8 507.2,358.0 507.4,355.9 507.5,356.4 507.7,357.2 507.8,357.6 508.0,355.7 508.1,358.5 508.3,355.5 508.4,356.6 508.5,355.1 508.7,357.9 508.8,357.4 509.0,357.9 509.1,357.4 509.3,357.8 509.4,358.4 509.6,356.9 509.7,358.6 509.9,358.5 510.0,357.7 510.1,358.9 510.3,359.0 510.4,358.5 510.6,359.4 510.7,360.3 510.9,359.6 511.0,359.9 511.2,358.4 511.3,361.0 511.5,359.5 511.6,361.2 511.7,361.0 511.9,361.2 512.0,360.9 512.2,360.6 512.3,360.0 512.5,362.3 512.6,360.8 512.8,361.3 512.9,361.7 513.1,363.2 513.2,362.0 513.3,363.1 513.5,362.9 513.6,363.6 513.8,363.0 513.9,362.9 514.1,363.1 514.2,364.4 514.4,363.6 514.5,363.4 514.7,365.6 514.8,363.8 515.0,366.4 515.1,365.0 515.2,365.2 515.4,364.8 515.5,366.1 515.7,367.0 515.8,367.5 516.0,368.2 516.1,366.8 516.3,367.9 516.4,368.6 516.6,367.9 516.7,369.2 516.8,369.2 517.0,369.5 517.1,368.1 517.3,368.5 517.4,370.1 517.6,371.5 517.7,370.3 517.9,370.8 518.0,370.9 518.2,371.0 518.3,372.0 518.4,371.3 518.6,371.6 518.7,372.4 518.9,373.2 519.0,373.5 519.2,372.9 519.3,374.6 519.5,374.1 519.6,374.7 519.8,375.4 519.9,374.0 520.0,374.7 520.2,374.8 520.3,374.4 520.5,376.4 520.6,375.5 520.8,375.4 520.9,375.2 521.1,376.8 521.2,375.6 521.4,376.2 521.5,375.5 521.6,375.9 521.8,376.5 521.9,375.5 522.1,377.3 522.2,377.8 522.4,378.0 522.5,378.6 522.7,378.1 522.8,379.7 523.0,378.5 523.1,378.3 523.2,378.1 523.4,379.3 523.5,378.2 523.7,379.7 523.8,379.2 524.0,380.4 524.1,379.5 524.3,379.4 524.4,377.6 524.6,378.2 524.7,379.3 524.9,377.9 525.0,376.9 525.1,375.4 525.3,373.2 525.4,371.5 525.6,369.6 525.7,368.6 525.9,365.3 526.0,362.1 526.2,360.0 526.3,361.6 526.5,364.6 526.6,366.7 526.7,368.3 526.9,371.3 527.0,374.5 527.2,376.4 527.3,379.3 527.5,381.3 527.6,385.6 527.8,390.0 527.9,392.6 528.1,395.8 528.2,400.6 528.3,403.7 528.5,406.8 528.6,410.0 528.8,411.6 528.9,411.6 529.1,413.8 529.2,415.1 529.4,417.6 529.5,417.8 529.7,420.9 529.8,421.8 529.9,422.6 530.1,423.8 530.2,426.3 530.4,427.7 530.5,428.7 530.7,431.1 530.8,431.5 531.0,433.0 531.1,434.9 531.3,435.9 531.4,437.3 531.5,438.5 531.7,439.0 531.8,439.2 532.0,440.5 532.1,440.8 532.3,441.7 532.4,441.7 532.6,442.8 532.7,443.0 532.9,443.7 533.0,444.3 533.2,444.3 533.3,445.5 533.4,445.6 533.6,446.3 533.7,446.7 533.9,447.8 534.0,448.0 534.2,448.6 534.3,449.6 534.5,449.9 534.6,450.6 534.8,451.2 534.9,451.3 535.0,452.5 535.2,453.4 535.3,454.0 535.5,454.0 535.6,454.3 535.8,454.4 535.9,454.5 536.1,454.5 536.2,455.2 536.4,455.4 536.5,456.0 536.6,455.9 536.8,456.0 536.9,456.3 537.1,457.5 537.2,456.9 537.4,457.0 537.5,457.5 537.7,458.4 537.8,458.4 538.0,458.4 538.1,458.7 538.2,459.3 538.4,459.6 538.5,459.4 538.7,460.3 538.8,459.9 539.0,460.5 539.1,460.7 539.3,461.4 539.4,461.5 539.6,461.5 539.7,462.3 539.8,461.7 540.0,462.8 540.1,463.0 540.3,462.8 540.4,462.9 540.6,463.1 540.7,463.5 540.9,463.7 541.0,463.9 541.2,464.2 541.3,464.9 541.4,464.2 541.6,464.6 541.7,464.8 541.9,465.2 542.0,465.2 542.2,465.5 542.3,465.7 542.5,465.6 542.6,466.3 542.8,466.0 542.9,466.4 543.1,466.3 543.2,465.9 543.3,466.6 543.5,466.5 543.6,466.6 543.8,466.4 543.9,466.9 544.1,467.1 544.2,466.7 544.4,467.0 544.5,467.1 544.7,466.8 544.8,467.3 544.9,467.3 545.1,467.3 545.2,467.3 545.4,467.6 545.5,467.3 545.7,467.2 545.8,467.8 546.0,467.4 546.1,468.3 546.3,467.7 546.4,468.1 546.5,468.1 546.7,468.3 546.8,468.4 547.0,468.6 547.1,468.5 547.3,468.2 547.4,468.4 547.6,468.7 547.7,468.9 547.9,469.0 548.0,469.2 548.1,468.6 548.3,468.9 548.4,469.0 548.6,469.2 548.7,469.3 548.9,468.9 549.0,469.0 549.2,469.4 549.3,469.1 549.5,469.5 549.6,469.2 549.7,469.6 549.9,469.5 550.0,469.4 550.2,469.4 550.3,469.3 550.5,469.7 550.6,469.3 550.8,469.4 550.9,469.7 551.1,469.6 551.2,469.9 551.4,469.8 551.5,470.1 551.6,469.8 551.8,469.9 551.9,469.7 552.1,469.8 552.2,469.9 552.4,470.1 552.5,470.1 552.7,470.2 552.8,470.1 553.0,470.6 553.1,470.1 553.2,470.6 553.4,470.4 553.5,470.3 553.7,470.5 553.8,470.1 554.0,470.5 554.1,470.2" fill="none" stroke="#404040" stroke-width="1.5" stroke-linejoin="round"/>
<polyline points="364.4,474.7 365.1,475.5 365.9,475.1 366.6,474.6 367.3,475.5 368.0,475.2 368.8,475.6 369.5,475.3 370.2,475.5 371.0,475.2 371.7,474.8 372.4,474.6 373.1,475.2 373.9,475.2 374.6,474.9 375.3,475.4 376.0,475.8 376.8,474.7 377.5,475.7 378.2,474.8 379.0,475.8 379.7,474.4 380.4,475.8 381.1,474.9 381.9,474.5 382.6,475.8 383.3,474.6 384.1,475.7 384.8,476.2 385.5,474.9 386.2,474.9 387.0,475.4 387.7,476.5 388.4,475.3 389.2,475.4 389.9,475.5 390.6,475.4 391.3,476.2 392.1,475.6 392.8,474.4 393.5,474.5 394.2,475.5 395.0,475.6 395.7,475.1 396.4,474.8 397.2,474.9 397.9,475.9 398.6,475.2 399.3,475.2 400.1,474.6 400.8,474.7 401.5,475.0 402.3,474.7 403.0,475.5 403.7,474.5 404.4,475.5 405.2,475.1 405.9,474.8 406.6,475.7 407.4,475.6 408.1,476.2 408.8,475.2 409.5,475.3 410.3,475.4 411.0,475.0 411.7,476.3 412.4,475.3 413.2,475.2 413.9,475.4 414.6,474.9 415.4,474.4 416.1,475.5 416.8,475.7 417.5,475.6 418.3,475.2 419.0,475.0 419.7,475.7 420.5,474.8 421.2,475.8 421.9,474.9 422.6,475.1 423.4,475.1 424.1,474.2 424.8,475.4 425.6,475.4 426.3,475.1 427.0,474.9 427.7,475.9 428.5,475.2 429.2,475.7 429.9,475.0 430.6,474.6 431.4,475.3 432.1,475.3 432.8,475.2 433.6,476.7 434.3,474.9 435.0,475.0 435.7,475.2 436.5,475.5 437.2,475.6 437.4,475.3 437.6,471.8 437.7,468.8 437.9,465.2 438.0,462.8 438.1,459.0 438.3,455.5 438.4,452.4 438.6,449.8 438.7,446.1 438.9,441.9 439.0,439.9 439.2,436.5 439.3,433.4 439.5,429.8 439.6,425.7 439.7,422.5 439.9,421.1 440.0,415.2 440.2,413.5 440.3,410.3 440.5,405.0 440.6,406.2 440.8,406.9 440.9,406.1 441.1,405.8 441.2,405.7 441.3,404.8 441.5,403.3 441.6,403.4 441.8,404.7 441.9,400.5 442.1,403.9 442.2,403.0 442.4,403.2 442.5,402.6 442.7,403.7 442.8,403.1 443.0,401.7 443.1,403.7 443.2,404.9 443.4,403.7 443.5,404.9 443.7,404.6 443.8,404.2 444.0,404.3 444.1,405.1 444.3,404.3 444.4,405.5 444.6,406.7 444.7,405.0 444.8,406.3 445.0,405.1 445.1,407.0 445.3,406.2 445.4,406.6 445.6,409.5 445.7,408.6 445.9,408.5 446.0,406.4 446.2,409.5 446.3,407.2 446.4,407.2 446.6,407.9 446.7,407.9 446.9,409.1 447.0,408.9 447.2,408.8 447.3,408.9 447.5,408.8 447.6,409.7 447.8,410.3 447.9,410.4 448.0,409.7 448.2,411.7 448.3,411.5 448.5,411.0 448.6,411.3 448.8,411.2 448.9,413.4 449.1,411.6 449.2,411.7 449.4,411.0 449.5,413.5 449.6,412.3 449.8,411.8 449.9,412.0 450.1,411.6 450.2,411.9 450.4,413.8 450.5,412.6 450.7,413.5 450.8,414.1 451.0,412.3 451.1,414.3 451.3,414.6 451.4,414.4 451.5,414.8 451.7,413.4 451.8,413.9 452.0,413.2 452.1,414.0 452.3,414.9 452.4,413.6 452.6,415.0 452.7,414.9 452.9,414.8 453.0,414.6 453.1,413.8 453.3,415.3 453.4,414.6 453.6,414.9 453.7,416.0 453.9,415.9 454.0,415.2 454.2,414.8 454.3,414.9 454.5,414.8 454.6,415.2 454.7,415.7 454.9,415.1 455.0,416.2 455.2,416.6 455.3,415.8 455.5,416.8 455.6,416.1 455.8,416.3 455.9,416.2 456.1,415.9 456.2,416.5 456.3,416.3 456.5,417.4 456.6,415.9 456.8,416.8 456.9,415.9 457.1,418.5 457.2,416.9 457.4,416.1 457.5,418.3 457.7,416.7 457.8,416.4 457.9,416.5 458.1,417.8 458.2,416.5 458.4,416.6 458.5,417.5 458.7,416.3 458.8,416.9 459.0,416.9 459.1,417.3 459.3,416.6 459.4,416.9 459.5,416.1 459.7,416.7 459.8,417.5 460.0,417.2 460.1,416.4 460.3,417.4 460.4,416.8 460.6,416.7 460.7,417.3 460.9,419.0 461.0,417.1 461.2,417.0 461.3,417.1 461.4,417.8 461.6,416.3 461.7,417.3 461.9,417.7 462.0,417.8 462.2,417.0 462.3,418.1 462.5,418.1 462.6,415.8 462.8,416.3 462.9,416.5 463.0,416.3 463.2,416.9 463.3,418.7 463.5,416.5 463.6,416.5 463.8,417.1 463.9,419.0 464.1,416.5 464.2,416.4 464.4,417.9 464.5,417.4 464.6,416.9 464.8,417.6 464.9,416.7 465.1,417.5 465.2,417.1 465.4,417.6 465.5,418.8 465.7,418.4 465.8,415.2 466.0,417.5 466.1,416.7 466.2,416.8 466.4,416.4 466.5,417.3 466.7,418.2 466.8,417.8 467.0,419.3 467.1,418.0 467.3,417.1 467.4,419.5 467.6,417.7 467.7,417.2 467.8,416.9 468.0,418.6 468.1,418.4 468.3,419.4 468.4,418.7 468.6,417.5 468.7,416.4 468.9,418.9 469.0,417.1 469.2,417.9 469.3,418.7 469.5,416.7 469.6,420.5 469.7,418.7 469.9,418.5 470.0,417.2 470.2,417.5 470.3,417.3 470.5,419.0 470.6,418.4 470.8,418.2 470.9,419.0 471.1,419.2 471.2,419.7 471.3,419.9 471.5,420.6 471.6,418.3 471.8,420.2 471.9,421.5 472.1,419.9 472.2,420.2 472.4,420.1 472.5,419.0 472.7,420.5 472.8,420.7 472.9,421.2 473.1,420.7 473.2,421.1 473.4,420.7 473.5,418.7 473.7,420.8 473.8,421.8 474.0,419.8 474.1,420.7 474.3,420.8 474.4,421.0 474.5,421.0 474.7,421.2 474.8,420.8 475.0,421.2 475.1,421.0 475.3,422.4 475.4,422.2 475.6,422.8 475.7,421.7 475.9,421.8 476.0,422.9 476.1,422.2 476.3,420.8 476.4,421.9 476.6,423.6 476.7,422.9 476.9,422.3 477.0,422.8 477.2,422.5 477.3,422.0 477.5,422.6 477.6,423.6 477.7,422.4 477.9,422.9 478.0,422.8 478.2,423.3 478.3,423.9 478.5,423.8 478.6,423.2 478.8,423.7 478.9,424.9 479.1,422.1 479.2,423.8 479.4,423.5 479.5,422.6 479.6,424.7 479.8,422.1 479.9,423.6 480.1,422.6 480.2,423.4 480.4,422.8 480.5,423.0 480.7,423.1 480.8,424.4 481.0,424.2 481.1,423.1 481.2,422.1 481.4,423.5 481.5,422.8 481.7,423.0 481.8,422.8 482.0,422.5 482.1,424.3 482.3,423.0 482.4,423.3 482.6,423.4 482.7,423.8 482.8,423.8 483.0,424.0 483.1,424.0 483.3,421.5 483.4,422.1 483.6,423.3 483.7,422.8 483.9,424.0 484.0,425.3 484.2,424.6 484.3,423.2 484.4,422.3 484.6,423.4 484.7,424.1 484.9,423.6 485.0,424.1 485.2,424.4 485.3,423.6 485.5,423.7 485.6,424.0 485.8,424.1 485.9,424.1 486.0,423.3 486.2,422.5 486.3,423.6 486.5,421.9 486.6,424.7 486.8,423.3 486.9,424.4 487.1,423.7 487.2,423.5 487.4,423.2 487.5,422.8 487.7,424.0 487.8,424.5 487.9,423.7 488.1,423.4 488.2,424.1 488.4,423.0 488.5,422.5 488.7,424.7 488.8,423.4 489.0,423.0 489.1,425.0 489.3,423.5 489.4,423.9 489.5,424.7 489.7,422.8 489.8,423.6 490.0,424.1 490.1,423.4 490.3,423.3 490.4,423.2 490.6,423.4 490.7,423.5 490.9,424.6 491.0,424.1 491.1,423.7 491.3,425.8 491.4,422.3 491.6,424.1 491.7,424.6 491.9,425.1 492.0,423.7 492.2,423.8 492.3,424.3 492.5,424.2 492.6,424.5 492.7,424.4 492.9,424.0 493.0,424.4 493.2,423.4 493.3,424.0 493.5,423.8 493.6,423.7 493.8,423.1 493.9,423.5 494.1,423.8 494.2,424.1 494.3,424.6 494.5,424.2 494.6,423.5 494.8,423.9 494.9,424.3 495.1,425.0 495.2,425.1 495.4,423.8 495.5,423.3 495.7,423.8 495.8,425.0 495.9,424.2 496.1,423.9 496.2,424.8 496.4,423.9 496.5,424.3 496.7,424.7 496.8,425.0 497.0,423.6 497.1,423.9 497.3,424.8 497.4,424.9 497.6,423.6 497.7,423.8 497.8,424.4 498.0,423.1 498.1,424.4 498.3,425.0 498.4,423.5 498.6,424.4 498.7,424.0 498.9,424.2 499.0,425.0 499.2,425.1 499.3,424.4 499.4,423.3 499.6,425.0 499.7,423.4 499.9,424.2 500.0,425.1 500.2,424.2 500.3,424.0 500.5,425.0 500.6,425.9 500.8,424.2 500.9,425.2 501.0,424.1 501.2,425.8 501.3,424.6 501.5,425.1 501.6,425.5 501.8,424.7 501.9,424.4 502.1,424.9 502.2,425.4 502.4,424.4 502.5,425.8 502.6,424.2 502.8,424.3 502.9,423.5 503.1,424.0 503.2,424.4 503.4,424.5 503.5,424.7 503.7,425.6 503.8,423.7 504.0,424.4 504.1,425.0 504.2,425.6 504.4,423.8 504.5,424.4 504.7,425.7 504.8,424.4 505.0,423.5 505.1,424.9 505.3,424.6 505.4,425.2 505.6,425.4 505.7,424.2 505.9,422.8 506.0,424.9 506.1,425.1 506.3,424.4 506.4,425.2 506.6,424.5 506.7,424.5 506.9,425.8 507.0,425.8 507.2,425.1 507.3,424.5 507.5,424.9 507.6,424.3 507.7,426.1 507.9,424.8 508.0,425.6 508.2,425.1 508.3,425.0 508.5,425.9 508.6,425.4 508.8,426.1 508.9,425.1 509.1,425.9 509.2,425.6 509.3,425.2 509.5,425.8 509.6,424.6 509.8,425.8 509.9,424.8 510.1,425.2 510.2,426.1 510.4,425.6 510.5,426.0 510.7,425.7 510.8,425.6 510.9,424.2 511.1,425.8 511.2,424.4 511.4,425.2 511.5,426.5 511.7,427.2 511.8,425.2 512.0,427.0 512.1,425.2 512.3,425.0 512.4,425.5 512.5,425.9 512.7,426.0 512.8,425.7 513.0,426.1 513.1,426.3 513.3,426.2 513.4,425.2 513.6,426.5 513.7,425.8 513.9,426.9 514.0,426.6 514.1,427.1 514.3,426.3 514.4,425.8 514.6,426.0 514.7,426.6 514.9,425.9 515.0,426.6 515.2,426.1 515.3,426.2 515.5,426.1 515.6,428.1 515.8,427.4 515.9,426.0 516.0,426.6 516.2,425.1 516.3,426.8 516.5,427.0 516.6,425.7 516.8,426.4 516.9,425.5 517.1,426.5 517.2,427.0 517.4,426.4 517.5,427.4 517.6,427.2 517.8,427.3 517.9,427.1 518.1,426.5 518.2,427.4 518.4,426.9 518.5,427.5 518.7,426.6 518.8,429.0 519.0,427.4 519.1,427.1 519.2,428.0 519.4,426.6 519.5,427.2 519.7,426.5 519.8,426.8 520.0,427.0 520.1,427.6 520.3,428.2 520.4,427.7 520.6,427.9 520.7,427.4 520.8,427.9 521.0,425.7 521.1,428.7 521.3,427.0 521.4,428.1 521.6,428.0 521.7,427.2 521.9,427.9 522.0,428.7 522.2,427.7 522.3,428.1 522.4,429.3 522.6,427.9 522.7,428.7 522.9,428.5 523.0,427.7 523.2,427.8 523.3,428.2 523.5,426.6 523.6,427.7 523.8,428.4 523.9,427.8 524.1,428.0 524.2,429.4 524.3,428.9 524.5,428.8 524.6,426.0 524.8,426.3 524.9,425.3 525.1,424.3 525.2,422.1 525.4,421.6 525.5,419.3 525.7,418.8 525.8,418.5 525.9,421.6 526.1,423.1 526.2,425.5 526.4,427.1 526.5,429.9 526.7,431.0 526.8,432.4 527.0,433.4 527.1,433.5 527.3,435.2 527.4,435.9 527.5,437.3 527.7,438.4 527.8,439.6 528.0,441.6 528.1,442.1 528.3,443.8 528.4,445.1 528.6,445.5 528.7,445.9 528.9,448.0 529.0,447.6 529.1,448.8 529.3,450.2 529.4,450.5 529.6,451.3 529.7,452.1 529.9,453.1 530.0,454.2 530.2,454.5 530.3,455.0 530.5,455.8 530.6,456.6 530.7,457.2 530.9,458.6 531.0,459.1 531.2,459.8 531.3,460.4 531.5,461.4 531.6,461.6 531.8,462.0 531.9,461.8 532.1,463.2 532.2,463.0 532.3,462.7 532.5,463.6 532.6,464.4 532.8,464.2 532.9,464.9 533.1,465.0 533.2,465.1 533.4,465.1 533.5,465.7 533.7,466.0 533.8,466.2 534.0,466.7 534.1,467.2 534.2,467.4 534.4,467.6 534.5,468.1 534.7,468.5 534.8,468.7 535.0,469.2 535.1,469.2 535.3,469.2 535.4,469.4 535.6,469.4 535.7,469.3 535.8,469.6 536.0,469.7 536.1,470.0 536.3,470.1 536.4,470.0 536.6,470.3 536.7,470.2 536.9,470.6 537.0,470.5 537.2,470.6 537.3,470.6 537.4,470.9 537.6,471.0 537.7,471.0 537.9,471.2 538.0,471.0 538.2,471.4 538.3,471.6 538.5,471.7 538.6,471.7 538.8,471.8 538.9,471.9 539.0,472.3 539.2,471.8 539.3,472.0 539.5,472.4 539.6,472.7 539.8,472.6 539.9,472.7 540.1,473.1 540.2,473.0 540.4,473.3 540.5,473.1 540.6,473.1 540.8,473.1 540.9,473.5 541.1,473.1 541.2,473.2 541.4,473.4 541.5,473.3 541.7,473.2 541.8,473.5 542.0,473.5 542.1,473.6 542.3,473.4 542.4,473.8 542.5,473.4 542.7,473.7 542.8,473.5 543.0,473.9 543.1,473.8 543.3,473.8 543.4,473.6 543.6,474.0 543.7,473.7 543.9,473.9 544.0,473.7 544.1,473.9 544.3,473.8 544.4,473.9 544.6,473.7 544.7,474.0 544.9,474.0 545.0,473.8 545.2,474.0 545.3,474.0 545.5,474.2 545.6,474.1 545.7,474.4 545.9,474.2 546.0,474.3 546.2,474.4 546.3,474.4 546.5,474.1 546.6,474.2 546.8,474.5 546.9,474.1 547.1,474.4 547.2,474.4 547.3,474.3 547.5,474.5 547.6,474.5 547.8,474.4 547.9,474.2 548.1,474.3 548.2,474.6 548.4,474.2 548.5,474.4 548.7,474.3 548.8,474.4 548.9,474.4 549.1,474.5 549.2,474.5 549.4,474.5 549.5,474.5 549.7,474.4 549.8,474.6 550.0,474.3 550.1,474.6 550.3,474.6 550.4,474.4 550.5,474.5 550.7,474.6 550.8,474.7 551.0,474.7 551.1,474.7 551.3,474.4 551.4,474.4 551.6,474.4 551.7,474.5 551.9,474.6 552.0,474.5 552.2,474.5 552.3,474.7 552.4,474.6 552.6,474.4 552.7,474.8 552.9,474.8 553.0,474.8 553.2,474.6 553.3,474.6 553.5,474.7 553.6,474.6 553.8,474.7 553.9,474.7 554.0,474.8 554.2,474.7 554.3,474.8 554.5,474.6 554.6,474.5 554.8,475.0 554.9,474.7 555.1,474.8 555.2,474.7 555.4,474.7 555.5,474.7 555.6,474.7 555.8,474.9 555.9,475.0 556.1,474.7 556.2,474.7 556.4,475.0 556.5,474.7 556.7,474.8 556.8,475.2 557.0,474.8 557.1,475.0 557.2,474.8 557.4,475.0 557.5,475.0 557.7,475.1 557.8,475.0 558.0,474.8 558.1,475.0 558.3,475.2 558.4,474.7 558.6,474.8 558.7,474.9 558.8,475.0 559.0,475.1 559.1,475.2 559.3,474.9 559.4,474.8 559.6,475.1 559.7,475.0 559.9,475.0 560.0,475.0 560.2,474.9 560.3,474.8 560.5,475.1 560.6,474.9 560.7,474.9 560.9,475.0 561.0,475.0 561.2,475.2 561.3,474.9 561.5,475.1 561.6,475.1 561.8,475.0 561.9,475.1 562.1,475.1 562.2,475.1 562.3,474.9 562.5,475.1 562.6,475.0 562.8,475.2 562.9,475.3 563.1,474.8 563.2,475.1 563.4,475.2 563.5,475.1 563.7,475.0 563.8,475.2 563.9,475.2 564.1,475.0 564.2,475.2 564.4,475.0 564.5,475.0 564.7,475.0 564.8,475.1 565.0,475.1 565.1,475.1 565.3,475.1 565.4,475.1 565.5,475.1 565.7,475.0 565.8,474.8 566.0,475.2 566.1,475.1 566.3,475.0 566.4,475.0 566.6,475.1 566.7,475.2 566.9,475.0 567.0,475.0 567.1,475.1 567.3,475.2 567.4,475.1 567.6,475.0 567.7,475.1 567.9,475.1 568.0,474.9 568.2,475.3 568.3,475.1 568.5,475.3 568.6,475.3 568.7,475.2 568.9,475.1 569.0,475.1 569.2,475.3 569.3,475.3 569.5,475.2 569.6,475.2 569.8,475.3 569.9,475.3 570.1,475.0 570.2,475.3 570.4,475.2 570.5,475.2 570.6,475.2 570.8,475.2 570.9,475.2 571.1,475.1 571.2,475.3 571.4,475.4 571.5,475.0 571.7,475.2 571.8,475.1 572.0,475.1 572.1,475.1 572.2,475.2 572.4,475.4 572.5,475.4 572.7,475.1 572.8,475.1 573.0,475.2 573.1,475.4 573.3,475.5 573.4,475.3 573.6,475.4 573.7,475.2 573.8,475.3 574.0,475.1 574.1,475.3 574.3,475.3 574.4,475.2 574.6,475.2 574.7,475.3 574.9,475.2 575.0,475.1 575.2,475.4 575.3,475.3 575.4,475.4 575.6,475.5 575.7,475.2 575.9,475.2 576.0,475.2 576.2,475.2 576.3,475.5 576.5,475.3 576.6,475.4 576.8,475.4 576.9,475.4 577.0,475.2 577.2,475.3 577.3,475.1 577.5,475.3 577.6,475.5 577.8,475.2 577.9,475.2 578.1,475.3 578.2,475.4 578.4,475.1 578.5,475.5 578.7,475.3 578.8,475.5 578.9,475.5 579.1,475.5 579.2,475.2 579.4,475.2 579.5,475.4 579.7,475.5 579.8,475.3 580.0,475.3 580.1,475.5 580.3,475.5 580.4,475.4 580.5,475.3 580.7,475.4 580.8,475.3 581.0,475.5 581.1,475.6 581.3,475.3 581.4,475.5 581.6,475.4 581.7,475.4 581.9,475.3 582.0,475.5 582.1,475.2 582.3,475.4 582.4,475.3 582.6,475.3 582.7,475.3 582.9,475.4 583.0,475.6 583.2,475.5 583.3,475.2 583.5,475.4 583.6,475.4 583.7,475.4 583.9,475.5 584.0,475.5 584.2,475.5 584.3,475.3 584.5,475.4 584.6,475.2 584.8,475.4 584.9,475.2 585.1,475.4 585.2,475.6 585.3,475.3 585.5,475.4 585.6,475.3 585.8,475.4 585.9,475.5 586.1,475.4 586.2,475.6 586.4,475.6 586.5,475.6 586.7,475.5 586.8,475.6 586.9,475.5 587.1,475.4 587.2,475.3 587.4,475.3 587.5,475.5 587.7,475.4 587.8,475.5 588.0,475.4 588.1,475.5 588.3,475.5 588.4,475.5 588.6,475.7 588.7,475.5 588.8,475.5 589.0,475.6 589.1,475.5 589.3,475.5 589.4,475.6 589.6,475.5 589.7,475.5 589.9,475.4 590.0,475.6 590.2,475.5 590.3,475.5 590.4,475.4 590.6,475.5 590.7,475.5 590.9,475.7 591.0,475.6 591.2,475.4 591.3,475.6 591.5,475.3 591.6,475.6 591.8,475.6 591.9,475.7 592.0,475.5 592.2,475.5 592.3,475.4 592.5,475.6 592.6,475.6 592.8,475.7 592.9,475.6 593.1,475.5 593.2,475.5 593.4,475.5 593.5,475.5 593.6,475.6 593.8,475.5 593.9,475.6 594.1,475.7 594.2,475.4 594.4,475.6 594.5,475.7 594.7,475.6 594.8,475.6 595.0,475.5 595.1,475.5 595.2,475.9 595.4,475.6 595.5,475.5 595.7,475.7 595.8,475.8" fill="none" stroke="#ff5d04" stroke-width="1.5" stroke-linejoin="round"/>
<line x1="521.7" y1="283.3" x2="551" y2="283.3" stroke="#555" stroke-width="1.5"/>
<line x1="521.7" y1="299.3" x2="551" y2="299.3" stroke="#ff5d04" stroke-width="1.5"/>
<text x="554.6" y="287.5" font-size="12.6" text-anchor="start" >PtCo30/H</text>
<text x="554.6" y="303.5" font-size="12.6" text-anchor="start" >PtCo50/H</text>
<rect x="364.4" y="270.5" width="254.8" height="205.3" fill="none" stroke="#636363" stroke-width="1.3"/>
<rect x="364.4" y="8.6" width="260" height="210" fill="none" stroke="#636363" stroke-width="1.3"/>
</svg>
</body></html>
